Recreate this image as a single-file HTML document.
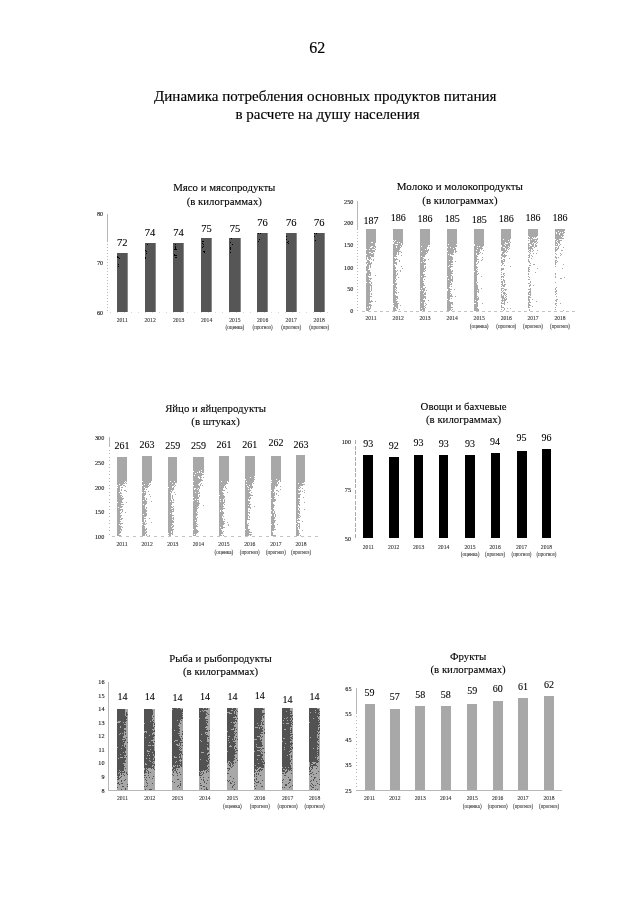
<!DOCTYPE html>
<html><head><meta charset="utf-8"><style>
html,body{margin:0;padding:0;background:#fff;}
body{width:640px;height:905px;overflow:hidden;}
svg{display:block;font-family:"Liberation Serif", serif;filter:grayscale(100%);}
</style></head><body>
<svg width="640" height="905" viewBox="0 0 640 905" shape-rendering="crispEdges">
<rect width="640" height="905" fill="#fff"/>
<text x="309.20" y="52.80" font-size="16" text-anchor="start" fill="#000" stroke="#000" stroke-width="0.15">62</text>
<text x="154.00" y="100.60" font-size="15" text-anchor="start" fill="#000" textLength="342.5" lengthAdjust="spacingAndGlyphs" stroke="#000" stroke-width="0.15">Динамика потребления основных продуктов питания</text>
<text x="235.50" y="119.40" font-size="15" text-anchor="start" fill="#000" stroke="#000" stroke-width="0.15">в расчете на душу населения</text>
<text x="224.30" y="191.30" font-size="10.8" text-anchor="middle" fill="#000" stroke="#000" stroke-width="0.1" >Мясо и мясопродукты</text>
<text x="224.30" y="205.20" font-size="10.8" text-anchor="middle" fill="#000" stroke="#000" stroke-width="0.1" >(в килограммах)</text>
<line x1="107.30" y1="213.90" x2="107.30" y2="241.00" stroke="#999" stroke-width="0.7"/>
<line x1="107.30" y1="241.00" x2="107.30" y2="312.00" stroke="#999" stroke-width="0.7" stroke-dasharray="1 2"/>
<text x="103.20" y="216.10" font-size="6.2" text-anchor="end" fill="#111" stroke="#111" stroke-width="0.1" >80</text>
<text x="103.20" y="265.40" font-size="6.2" text-anchor="end" fill="#111" stroke="#111" stroke-width="0.1" >70</text>
<text x="103.20" y="314.70" font-size="6.2" text-anchor="end" fill="#111" stroke="#111" stroke-width="0.1" >60</text>
<rect x="116.60" y="253.00" width="11.20" height="59.00" fill="#565656"/>
<rect x="127.00" y="253.00" width="0.80" height="59.00" fill="#8a8a8a"/>
<path d="M117 256h1v1h-1zM117 257h1v1h-1zM118 257h1v1h-1zM119 258h1v1h-1zM118 264h1v1h-1zM118 266h1v1h-1z" fill="#000"/>
<rect x="144.50" y="243.00" width="11.20" height="69.00" fill="#565656"/>
<rect x="154.90" y="243.00" width="0.80" height="69.00" fill="#8a8a8a"/>
<path d="M147 244h1v1h-1zM145 250h1v1h-1zM146 251h1v1h-1zM146 253h1v1h-1zM145 257h1v1h-1zM145 258h1v1h-1z" fill="#000"/>
<rect x="173.00" y="243.00" width="11.20" height="69.00" fill="#565656"/>
<rect x="183.40" y="243.00" width="0.80" height="69.00" fill="#8a8a8a"/>
<path d="M175 244h1v1h-1zM175 246h1v1h-1zM175 247h1v1h-1zM175 248h1v1h-1zM174 249h1v1h-1zM175 249h1v1h-1zM176 249h1v1h-1zM174 254h1v1h-1zM174 255h1v1h-1zM175 255h1v1h-1zM176 255h1v1h-1zM175 257h1v1h-1zM176 257h1v1h-1z" fill="#000"/>
<rect x="201.00" y="237.50" width="11.20" height="74.50" fill="#565656"/>
<rect x="211.40" y="237.50" width="0.80" height="74.50" fill="#8a8a8a"/>
<path d="M202 241h1v1h-1zM203 241h1v1h-1zM202 243h1v1h-1zM203 244h1v1h-1zM203 246h1v1h-1zM202 247h1v1h-1zM203 251h1v1h-1zM204 251h1v1h-1zM204 252h1v1h-1z" fill="#000"/>
<rect x="229.30" y="237.50" width="11.20" height="74.50" fill="#565656"/>
<rect x="239.70" y="237.50" width="0.80" height="74.50" fill="#8a8a8a"/>
<path d="M231 238h1v1h-1zM230 242h1v1h-1zM232 244h1v1h-1zM230 247h1v1h-1zM230 248h1v1h-1zM230 249h1v1h-1zM230 252h1v1h-1z" fill="#000"/>
<rect x="257.00" y="232.50" width="11.20" height="79.50" fill="#565656"/>
<rect x="267.40" y="232.50" width="0.80" height="79.50" fill="#8a8a8a"/>
<path d="M258 233h1v1h-1zM260 233h1v1h-1zM259 239h1v1h-1zM258 241h1v1h-1z" fill="#000"/>
<rect x="285.60" y="232.50" width="11.20" height="79.50" fill="#565656"/>
<rect x="296.00" y="232.50" width="0.80" height="79.50" fill="#8a8a8a"/>
<path d="M286 236h1v1h-1zM286 239h1v1h-1zM288 241h1v1h-1zM287 242h1v1h-1zM288 243h1v1h-1z" fill="#000"/>
<rect x="313.60" y="232.50" width="11.20" height="79.50" fill="#565656"/>
<rect x="324.00" y="232.50" width="0.80" height="79.50" fill="#8a8a8a"/>
<path d="M314 233h1v1h-1zM316 233h1v1h-1zM314 236h1v1h-1zM315 240h1v1h-1z" fill="#000"/>
<line x1="110.00" y1="312.00" x2="330.00" y2="312.00" stroke="#bbb" stroke-width="0.6" stroke-dasharray="1 6"/>
<text x="122.20" y="245.60" font-size="10.5" text-anchor="middle" fill="#000" stroke="#000" stroke-width="0.1" >72</text>
<text x="150.10" y="236.40" font-size="10.5" text-anchor="middle" fill="#000" stroke="#000" stroke-width="0.1" >74</text>
<text x="178.60" y="236.40" font-size="10.5" text-anchor="middle" fill="#000" stroke="#000" stroke-width="0.1" >74</text>
<text x="206.60" y="232.00" font-size="10.5" text-anchor="middle" fill="#000" stroke="#000" stroke-width="0.1" >75</text>
<text x="234.90" y="232.00" font-size="10.5" text-anchor="middle" fill="#000" stroke="#000" stroke-width="0.1" >75</text>
<text x="262.60" y="226.00" font-size="10.5" text-anchor="middle" fill="#000" stroke="#000" stroke-width="0.1" >76</text>
<text x="291.20" y="226.00" font-size="10.5" text-anchor="middle" fill="#000" stroke="#000" stroke-width="0.1" >76</text>
<text x="319.20" y="226.00" font-size="10.5" text-anchor="middle" fill="#000" stroke="#000" stroke-width="0.1" >76</text>
<text x="122.20" y="321.80" font-size="5.6" text-anchor="middle" fill="#333" stroke="#333" stroke-width="0.1" >2011</text>
<text x="150.10" y="321.80" font-size="5.6" text-anchor="middle" fill="#333" stroke="#333" stroke-width="0.1" >2012</text>
<text x="178.60" y="321.80" font-size="5.6" text-anchor="middle" fill="#333" stroke="#333" stroke-width="0.1" >2013</text>
<text x="206.60" y="321.80" font-size="5.6" text-anchor="middle" fill="#333" stroke="#333" stroke-width="0.1" >2014</text>
<text x="234.90" y="321.80" font-size="5.6" text-anchor="middle" fill="#333" stroke="#333" stroke-width="0.1" >2015</text>
<text x="234.90" y="329.20" font-size="5.2" text-anchor="middle" fill="#444" stroke="#444" stroke-width="0.1" textLength="18.8" lengthAdjust="spacingAndGlyphs">(оценка)</text>
<text x="262.60" y="321.80" font-size="5.6" text-anchor="middle" fill="#333" stroke="#333" stroke-width="0.1" >2016</text>
<text x="262.60" y="329.20" font-size="5.2" text-anchor="middle" fill="#444" stroke="#444" stroke-width="0.1" textLength="20.0" lengthAdjust="spacingAndGlyphs">(прогноз)</text>
<text x="291.20" y="321.80" font-size="5.6" text-anchor="middle" fill="#333" stroke="#333" stroke-width="0.1" >2017</text>
<text x="291.20" y="329.20" font-size="5.2" text-anchor="middle" fill="#444" stroke="#444" stroke-width="0.1" textLength="20.0" lengthAdjust="spacingAndGlyphs">(прогноз)</text>
<text x="319.20" y="321.80" font-size="5.6" text-anchor="middle" fill="#333" stroke="#333" stroke-width="0.1" >2018</text>
<text x="319.20" y="329.20" font-size="5.2" text-anchor="middle" fill="#444" stroke="#444" stroke-width="0.1" textLength="20.0" lengthAdjust="spacingAndGlyphs">(прогноз)</text>
<text x="459.90" y="190.00" font-size="11.0" text-anchor="middle" fill="#000" stroke="#000" stroke-width="0.1" >Молоко и молокопродукты</text>
<text x="459.90" y="203.80" font-size="10.8" text-anchor="middle" fill="#000" stroke="#000" stroke-width="0.1" >(в килограммах)</text>
<line x1="357.40" y1="201.30" x2="357.40" y2="228.60" stroke="#999" stroke-width="0.7"/>
<line x1="357.40" y1="228.60" x2="357.40" y2="311.00" stroke="#999" stroke-width="0.7" stroke-dasharray="1 2"/>
<text x="353.40" y="203.50" font-size="6.2" text-anchor="end" fill="#111" stroke="#111" stroke-width="0.1" >250</text>
<text x="353.40" y="224.80" font-size="6.2" text-anchor="end" fill="#111" stroke="#111" stroke-width="0.1" >200</text>
<text x="353.40" y="247.20" font-size="6.2" text-anchor="end" fill="#111" stroke="#111" stroke-width="0.1" >150</text>
<text x="353.40" y="269.60" font-size="6.2" text-anchor="end" fill="#111" stroke="#111" stroke-width="0.1" >100</text>
<text x="353.40" y="291.20" font-size="6.2" text-anchor="end" fill="#111" stroke="#111" stroke-width="0.1" >50</text>
<text x="353.40" y="312.90" font-size="6.2" text-anchor="end" fill="#111" stroke="#111" stroke-width="0.1" >0</text>
<path d="M366 229h10v1h-10zM366 230h10v1h-10zM366 231h10v1h-10zM366 232h10v1h-10zM366 233h10v1h-10zM366 234h10v1h-10zM366 235h10v1h-10zM366 236h10v1h-10zM366 237h10v1h-10zM366 238h10v1h-10zM366 239h10v1h-10zM366 240h10v1h-10zM366 241h10v1h-10zM366 242h5v1h-5zM373 242h3v1h-3zM366 243h9v1h-9zM366 244h9v1h-9zM366 245h9v1h-9zM366 246h5v1h-5zM373 246h3v1h-3zM366 247h4v1h-4zM372 247h2v1h-2zM375 247h1v1h-1zM366 248h9v1h-9zM367 249h2v1h-2zM370 249h2v1h-2zM375 249h1v1h-1zM366 250h9v1h-9zM366 251h9v1h-9zM366 252h3v1h-3zM371 252h2v1h-2zM366 253h5v1h-5zM373 253h1v1h-1zM367 254h7v1h-7zM366 255h8v1h-8zM366 256h4v1h-4zM371 256h3v1h-3zM366 257h1v1h-1zM368 257h3v1h-3zM366 258h1v1h-1zM368 258h3v1h-3zM366 259h1v1h-1zM369 259h1v1h-1zM371 259h1v1h-1zM373 259h1v1h-1zM367 260h2v1h-2zM373 260h1v1h-1zM367 261h3v1h-3zM366 262h4v1h-4zM371 262h1v1h-1zM366 263h1v1h-1zM368 263h4v1h-4zM367 264h4v1h-4zM367 265h2v1h-2zM370 265h1v1h-1zM366 266h3v1h-3zM370 266h1v1h-1zM366 267h3v1h-3zM370 267h1v1h-1zM366 268h3v1h-3zM366 269h2v1h-2zM366 270h4v1h-4zM367 271h3v1h-3zM367 272h4v1h-4zM366 273h5v1h-5zM366 274h3v1h-3zM370 274h1v1h-1zM366 275h5v1h-5zM375 275h1v1h-1zM366 276h2v1h-2zM366 277h3v1h-3zM366 278h6v1h-6zM366 279h3v1h-3zM370 279h1v1h-1zM366 280h4v1h-4zM366 281h5v1h-5zM367 282h2v1h-2zM371 282h1v1h-1zM366 283h4v1h-4zM371 283h1v1h-1zM366 284h5v1h-5zM366 285h6v1h-6zM366 286h4v1h-4zM371 286h1v1h-1zM366 287h4v1h-4zM371 287h1v1h-1zM366 288h4v1h-4zM371 288h1v1h-1zM366 289h4v1h-4zM371 289h1v1h-1zM366 290h4v1h-4zM371 290h1v1h-1zM366 291h5v1h-5zM366 292h4v1h-4zM366 293h4v1h-4zM371 293h1v1h-1zM366 294h4v1h-4zM371 294h1v1h-1zM366 295h4v1h-4zM366 296h6v1h-6zM366 297h4v1h-4zM366 298h4v1h-4zM366 299h4v1h-4zM366 300h4v1h-4zM371 300h1v1h-1zM366 301h7v1h-7zM375 301h1v1h-1zM366 302h5v1h-5zM366 303h3v1h-3zM366 304h5v1h-5zM366 305h6v1h-6zM366 306h3v1h-3zM370 306h1v1h-1zM366 307h1v1h-1zM368 307h1v1h-1zM370 307h1v1h-1zM366 308h5v1h-5zM366 309h4v1h-4zM366 310h3v1h-3z" fill="#a8a8a8"/>
<path d="M393 229h10v1h-10zM393 230h10v1h-10zM393 231h10v1h-10zM393 232h10v1h-10zM393 233h10v1h-10zM393 234h10v1h-10zM393 235h10v1h-10zM393 236h10v1h-10zM393 237h10v1h-10zM393 238h10v1h-10zM393 239h10v1h-10zM394 240h1v1h-1zM396 240h7v1h-7zM393 241h1v1h-1zM395 241h8v1h-8zM394 242h3v1h-3zM398 242h1v1h-1zM400 242h3v1h-3zM394 243h7v1h-7zM402 243h1v1h-1zM393 244h2v1h-2zM398 244h3v1h-3zM402 244h1v1h-1zM393 245h9v1h-9zM393 246h3v1h-3zM397 246h3v1h-3zM401 246h1v1h-1zM393 247h3v1h-3zM397 247h4v1h-4zM393 248h7v1h-7zM393 249h7v1h-7zM393 250h6v1h-6zM393 251h8v1h-8zM393 252h4v1h-4zM398 252h1v1h-1zM401 252h1v1h-1zM393 253h4v1h-4zM398 253h1v1h-1zM393 254h4v1h-4zM398 254h1v1h-1zM393 255h3v1h-3zM401 255h1v1h-1zM393 256h4v1h-4zM393 257h1v1h-1zM393 258h2v1h-2zM396 258h1v1h-1zM393 259h5v1h-5zM393 260h3v1h-3zM399 260h1v1h-1zM393 261h2v1h-2zM399 261h1v1h-1zM393 262h4v1h-4zM393 263h4v1h-4zM393 264h1v1h-1zM396 264h1v1h-1zM393 265h2v1h-2zM393 266h2v1h-2zM401 266h1v1h-1zM393 267h3v1h-3zM393 268h3v1h-3zM402 268h1v1h-1zM393 269h2v1h-2zM393 270h3v1h-3zM397 270h1v1h-1zM400 270h1v1h-1zM393 271h4v1h-4zM400 271h1v1h-1zM393 272h3v1h-3zM393 273h3v1h-3zM397 273h1v1h-1zM393 274h3v1h-3zM397 274h1v1h-1zM393 275h4v1h-4zM393 276h3v1h-3zM393 277h3v1h-3zM398 277h1v1h-1zM393 278h3v1h-3zM393 279h2v1h-2zM396 279h1v1h-1zM393 280h3v1h-3zM393 281h3v1h-3zM393 282h2v1h-2zM393 283h4v1h-4zM394 284h3v1h-3zM393 285h3v1h-3zM393 286h3v1h-3zM393 287h4v1h-4zM393 288h2v1h-2zM396 288h1v1h-1zM393 289h3v1h-3zM393 290h2v1h-2zM396 290h1v1h-1zM393 291h3v1h-3zM393 292h4v1h-4zM398 292h1v1h-1zM393 293h2v1h-2zM396 293h1v1h-1zM393 294h2v1h-2zM393 295h3v1h-3zM393 296h5v1h-5zM393 297h5v1h-5zM393 298h3v1h-3zM397 298h1v1h-1zM393 299h4v1h-4zM393 300h3v1h-3zM393 301h5v1h-5zM393 302h4v1h-4zM394 303h5v1h-5zM393 304h5v1h-5zM394 305h4v1h-4zM400 305h1v1h-1zM394 306h4v1h-4zM393 307h2v1h-2zM396 307h2v1h-2zM393 308h3v1h-3zM397 308h1v1h-1zM393 309h3v1h-3zM399 309h1v1h-1zM393 310h4v1h-4z" fill="#a8a8a8"/>
<path d="M420 229h10v1h-10zM420 230h10v1h-10zM420 231h10v1h-10zM420 232h10v1h-10zM420 233h10v1h-10zM420 234h10v1h-10zM420 235h10v1h-10zM420 236h10v1h-10zM420 237h10v1h-10zM420 238h10v1h-10zM420 239h10v1h-10zM420 240h10v1h-10zM420 241h10v1h-10zM420 242h10v1h-10zM420 243h10v1h-10zM420 244h10v1h-10zM420 245h8v1h-8zM420 246h1v1h-1zM422 246h6v1h-6zM429 246h1v1h-1zM420 247h7v1h-7zM420 248h7v1h-7zM420 249h5v1h-5zM426 249h1v1h-1zM428 249h1v1h-1zM420 250h9v1h-9zM420 251h1v1h-1zM422 251h6v1h-6zM420 252h6v1h-6zM427 252h1v1h-1zM420 253h7v1h-7zM420 254h6v1h-6zM420 255h5v1h-5zM420 256h1v1h-1zM422 256h3v1h-3zM420 257h3v1h-3zM420 258h4v1h-4zM420 259h3v1h-3zM424 259h2v1h-2zM428 259h1v1h-1zM420 260h6v1h-6zM420 261h3v1h-3zM424 261h1v1h-1zM420 262h1v1h-1zM422 262h2v1h-2zM420 263h6v1h-6zM420 264h6v1h-6zM420 265h4v1h-4zM420 266h4v1h-4zM425 266h1v1h-1zM420 267h4v1h-4zM425 267h1v1h-1zM420 268h6v1h-6zM420 269h5v1h-5zM420 270h4v1h-4zM425 270h1v1h-1zM420 271h5v1h-5zM420 272h3v1h-3zM420 273h3v1h-3zM420 274h5v1h-5zM420 275h4v1h-4zM420 276h1v1h-1zM422 276h4v1h-4zM420 277h4v1h-4zM420 278h3v1h-3zM420 279h3v1h-3zM424 279h1v1h-1zM420 280h3v1h-3zM420 281h4v1h-4zM420 282h3v1h-3zM420 283h4v1h-4zM420 284h4v1h-4zM420 285h5v1h-5zM420 286h3v1h-3zM420 287h3v1h-3zM425 287h1v1h-1zM420 288h1v1h-1zM422 288h3v1h-3zM420 289h5v1h-5zM421 290h1v1h-1zM423 290h2v1h-2zM426 290h1v1h-1zM420 291h4v1h-4zM420 292h4v1h-4zM425 292h1v1h-1zM420 293h3v1h-3zM424 293h2v1h-2zM420 294h6v1h-6zM420 295h4v1h-4zM420 296h6v1h-6zM420 297h6v1h-6zM420 298h4v1h-4zM425 298h1v1h-1zM420 299h3v1h-3zM420 300h5v1h-5zM428 300h1v1h-1zM420 301h5v1h-5zM420 302h1v1h-1zM422 302h2v1h-2zM420 303h4v1h-4zM425 303h1v1h-1zM420 304h4v1h-4zM426 304h1v1h-1zM420 305h4v1h-4zM425 305h1v1h-1zM420 306h5v1h-5zM420 307h4v1h-4zM425 307h1v1h-1zM420 308h1v1h-1zM422 308h3v1h-3zM420 309h5v1h-5zM420 310h2v1h-2zM423 310h2v1h-2z" fill="#a8a8a8"/>
<path d="M447 229h10v1h-10zM447 230h10v1h-10zM447 231h10v1h-10zM447 232h10v1h-10zM447 233h10v1h-10zM447 234h10v1h-10zM447 235h10v1h-10zM447 236h10v1h-10zM447 237h10v1h-10zM447 238h10v1h-10zM447 239h10v1h-10zM447 240h10v1h-10zM447 241h10v1h-10zM447 242h10v1h-10zM447 243h10v1h-10zM447 244h1v1h-1zM449 244h7v1h-7zM447 245h10v1h-10zM447 246h10v1h-10zM448 247h2v1h-2zM451 247h4v1h-4zM447 248h6v1h-6zM454 248h2v1h-2zM447 249h9v1h-9zM447 250h7v1h-7zM455 250h1v1h-1zM448 251h6v1h-6zM455 251h2v1h-2zM447 252h7v1h-7zM455 252h1v1h-1zM447 253h6v1h-6zM447 254h1v1h-1zM449 254h1v1h-1zM451 254h3v1h-3zM447 255h3v1h-3zM447 256h5v1h-5zM447 257h6v1h-6zM447 258h6v1h-6zM447 259h6v1h-6zM447 260h2v1h-2zM450 260h2v1h-2zM447 261h6v1h-6zM455 261h1v1h-1zM447 262h6v1h-6zM447 263h4v1h-4zM447 264h6v1h-6zM447 265h2v1h-2zM450 265h1v1h-1zM447 266h1v1h-1zM449 266h4v1h-4zM447 267h4v1h-4zM447 268h3v1h-3zM447 269h4v1h-4zM447 270h4v1h-4zM452 270h1v1h-1zM447 271h6v1h-6zM447 272h5v1h-5zM447 273h6v1h-6zM447 274h4v1h-4zM447 275h5v1h-5zM448 276h3v1h-3zM452 276h1v1h-1zM447 277h4v1h-4zM452 277h1v1h-1zM447 278h4v1h-4zM452 278h1v1h-1zM447 279h1v1h-1zM449 279h4v1h-4zM447 280h6v1h-6zM447 281h4v1h-4zM452 281h1v1h-1zM447 282h4v1h-4zM447 283h3v1h-3zM451 283h1v1h-1zM447 284h5v1h-5zM447 285h3v1h-3zM447 286h3v1h-3zM451 286h1v1h-1zM447 287h2v1h-2zM447 288h3v1h-3zM448 289h4v1h-4zM454 289h1v1h-1zM448 290h2v1h-2zM447 291h4v1h-4zM447 292h3v1h-3zM447 293h4v1h-4zM447 294h3v1h-3zM451 294h1v1h-1zM447 295h5v1h-5zM447 296h6v1h-6zM455 296h1v1h-1zM447 297h3v1h-3zM447 298h3v1h-3zM451 298h1v1h-1zM448 299h2v1h-2zM447 300h2v1h-2zM447 301h3v1h-3zM447 302h6v1h-6zM447 303h6v1h-6zM447 304h4v1h-4zM452 304h1v1h-1zM447 305h4v1h-4zM447 306h4v1h-4zM447 307h6v1h-6zM447 308h4v1h-4zM447 309h4v1h-4zM452 309h1v1h-1zM447 310h3v1h-3zM451 310h1v1h-1z" fill="#a8a8a8"/>
<path d="M474 229h10v1h-10zM474 230h10v1h-10zM474 231h10v1h-10zM474 232h10v1h-10zM474 233h10v1h-10zM474 234h10v1h-10zM474 235h10v1h-10zM474 236h10v1h-10zM474 237h10v1h-10zM474 238h10v1h-10zM474 239h10v1h-10zM474 240h10v1h-10zM474 241h10v1h-10zM474 242h10v1h-10zM474 243h10v1h-10zM475 244h9v1h-9zM475 245h9v1h-9zM474 246h3v1h-3zM478 246h1v1h-1zM480 246h3v1h-3zM474 247h8v1h-8zM474 248h3v1h-3zM478 248h5v1h-5zM474 249h6v1h-6zM481 249h1v1h-1zM474 250h2v1h-2zM477 250h3v1h-3zM483 250h1v1h-1zM474 251h6v1h-6zM474 252h5v1h-5zM480 252h1v1h-1zM474 253h2v1h-2zM477 253h3v1h-3zM482 253h1v1h-1zM474 254h2v1h-2zM477 254h2v1h-2zM474 255h3v1h-3zM474 256h4v1h-4zM474 257h3v1h-3zM482 257h1v1h-1zM474 258h3v1h-3zM474 259h5v1h-5zM482 259h1v1h-1zM474 260h3v1h-3zM481 260h1v1h-1zM474 261h3v1h-3zM478 261h1v1h-1zM474 262h2v1h-2zM478 262h1v1h-1zM474 263h2v1h-2zM477 263h1v1h-1zM474 264h3v1h-3zM474 265h2v1h-2zM474 266h3v1h-3zM474 267h4v1h-4zM474 268h3v1h-3zM474 269h2v1h-2zM477 269h1v1h-1zM474 270h3v1h-3zM475 271h3v1h-3zM474 272h3v1h-3zM474 273h3v1h-3zM478 273h1v1h-1zM474 274h4v1h-4zM474 275h3v1h-3zM474 276h3v1h-3zM481 276h1v1h-1zM474 277h3v1h-3zM474 278h3v1h-3zM474 279h3v1h-3zM474 280h3v1h-3zM474 281h3v1h-3zM474 282h2v1h-2zM477 282h1v1h-1zM474 283h3v1h-3zM474 284h3v1h-3zM474 285h4v1h-4zM474 286h4v1h-4zM474 287h4v1h-4zM474 288h4v1h-4zM481 288h1v1h-1zM474 289h5v1h-5zM474 290h3v1h-3zM478 290h1v1h-1zM474 291h5v1h-5zM474 292h3v1h-3zM478 292h1v1h-1zM474 293h3v1h-3zM474 294h3v1h-3zM474 295h3v1h-3zM474 296h4v1h-4zM474 297h3v1h-3zM478 297h1v1h-1zM474 298h5v1h-5zM474 299h5v1h-5zM474 300h1v1h-1zM476 300h2v1h-2zM474 301h3v1h-3zM474 302h4v1h-4zM476 303h2v1h-2zM482 303h1v1h-1zM474 304h4v1h-4zM474 305h4v1h-4zM474 306h4v1h-4zM474 307h3v1h-3zM474 308h4v1h-4zM474 309h5v1h-5zM474 310h5v1h-5z" fill="#a8a8a8"/>
<path d="M501 229h10v1h-10zM501 230h10v1h-10zM501 231h10v1h-10zM501 232h10v1h-10zM501 233h10v1h-10zM501 234h10v1h-10zM501 235h10v1h-10zM501 236h10v1h-10zM501 237h10v1h-10zM501 238h10v1h-10zM501 239h2v1h-2zM504 239h6v1h-6zM501 240h7v1h-7zM509 240h1v1h-1zM501 241h9v1h-9zM501 242h4v1h-4zM506 242h3v1h-3zM510 242h1v1h-1zM501 243h4v1h-4zM508 243h2v1h-2zM501 244h3v1h-3zM505 244h5v1h-5zM502 245h3v1h-3zM506 245h4v1h-4zM502 246h6v1h-6zM509 246h1v1h-1zM501 247h2v1h-2zM505 247h4v1h-4zM501 248h4v1h-4zM506 248h2v1h-2zM509 248h1v1h-1zM501 249h4v1h-4zM506 249h1v1h-1zM508 249h1v1h-1zM501 250h6v1h-6zM503 251h3v1h-3zM507 251h1v1h-1zM502 252h3v1h-3zM506 252h1v1h-1zM502 253h2v1h-2zM501 254h2v1h-2zM504 254h1v1h-1zM501 255h6v1h-6zM502 256h4v1h-4zM501 257h1v1h-1zM504 257h1v1h-1zM501 258h1v1h-1zM509 258h1v1h-1zM503 259h2v1h-2zM501 260h2v1h-2zM504 260h1v1h-1zM501 261h4v1h-4zM501 262h2v1h-2zM502 263h2v1h-2zM502 264h1v1h-1zM501 265h1v1h-1zM504 265h1v1h-1zM510 266h1v1h-1zM501 268h3v1h-3zM501 269h3v1h-3zM501 270h1v1h-1zM501 272h1v1h-1zM503 273h2v1h-2zM501 274h1v1h-1zM503 274h1v1h-1zM504 275h1v1h-1zM501 276h3v1h-3zM501 277h1v1h-1zM503 277h1v1h-1zM501 279h1v1h-1zM503 279h1v1h-1zM503 280h2v1h-2zM501 281h2v1h-2zM504 281h1v1h-1zM501 282h2v1h-2zM504 282h1v1h-1zM502 283h1v1h-1zM501 284h2v1h-2zM504 284h2v1h-2zM502 285h3v1h-3zM501 286h1v1h-1zM503 286h2v1h-2zM501 288h3v1h-3zM501 289h1v1h-1zM504 289h3v1h-3zM501 290h1v1h-1zM503 290h1v1h-1zM505 290h1v1h-1zM502 291h1v1h-1zM501 292h1v1h-1zM503 292h2v1h-2zM503 293h3v1h-3zM501 294h1v1h-1zM504 294h1v1h-1zM506 294h1v1h-1zM501 295h1v1h-1zM503 295h1v1h-1zM505 295h1v1h-1zM501 296h3v1h-3zM506 296h1v1h-1zM501 297h3v1h-3zM505 297h1v1h-1zM502 298h3v1h-3zM506 298h1v1h-1zM502 299h1v1h-1zM504 299h3v1h-3zM501 300h5v1h-5zM502 301h1v1h-1zM504 301h1v1h-1zM501 302h1v1h-1zM504 302h1v1h-1zM507 302h1v1h-1zM501 303h4v1h-4zM504 304h1v1h-1zM501 305h1v1h-1zM501 306h1v1h-1zM501 307h3v1h-3zM504 308h1v1h-1zM507 308h1v1h-1zM510 308h1v1h-1zM501 309h1v1h-1zM504 309h1v1h-1zM503 310h1v1h-1z" fill="#a8a8a8"/>
<path d="M528 229h10v1h-10zM528 230h10v1h-10zM528 231h10v1h-10zM528 232h10v1h-10zM528 233h10v1h-10zM528 234h10v1h-10zM528 235h10v1h-10zM529 236h8v1h-8zM528 237h1v1h-1zM530 237h2v1h-2zM533 237h1v1h-1zM535 237h1v1h-1zM528 238h5v1h-5zM537 238h1v1h-1zM530 239h1v1h-1zM532 239h6v1h-6zM528 240h1v1h-1zM530 240h5v1h-5zM536 240h1v1h-1zM530 241h7v1h-7zM530 242h3v1h-3zM534 242h2v1h-2zM537 242h1v1h-1zM528 243h4v1h-4zM533 243h1v1h-1zM536 243h1v1h-1zM528 244h1v1h-1zM531 244h3v1h-3zM535 244h1v1h-1zM528 245h2v1h-2zM532 245h2v1h-2zM535 245h2v1h-2zM528 246h1v1h-1zM530 246h4v1h-4zM535 246h2v1h-2zM528 247h4v1h-4zM534 247h1v1h-1zM528 248h5v1h-5zM528 249h1v1h-1zM530 249h1v1h-1zM532 249h1v1h-1zM529 250h2v1h-2zM533 250h1v1h-1zM537 250h1v1h-1zM528 251h1v1h-1zM530 251h1v1h-1zM532 251h1v1h-1zM529 252h1v1h-1zM530 253h1v1h-1zM533 253h1v1h-1zM536 253h1v1h-1zM529 254h1v1h-1zM528 255h2v1h-2zM531 255h1v1h-1zM529 256h1v1h-1zM532 256h1v1h-1zM528 257h2v1h-2zM531 258h1v1h-1zM528 259h1v1h-1zM528 260h1v1h-1zM528 261h2v1h-2zM529 262h1v1h-1zM530 263h1v1h-1zM533 264h2v1h-2zM529 265h2v1h-2zM528 267h2v1h-2zM528 268h1v1h-1zM537 268h1v1h-1zM528 269h2v1h-2zM528 270h1v1h-1zM528 271h2v1h-2zM535 272h1v1h-1zM528 273h1v1h-1zM528 274h1v1h-1zM528 276h1v1h-1zM529 277h1v1h-1zM528 279h2v1h-2zM530 281h1v1h-1zM530 282h1v1h-1zM528 283h2v1h-2zM530 284h1v1h-1zM529 285h2v1h-2zM533 285h1v1h-1zM529 286h1v1h-1zM530 288h1v1h-1zM528 289h3v1h-3zM530 290h1v1h-1zM529 291h2v1h-2zM528 292h3v1h-3zM528 293h1v1h-1zM530 293h1v1h-1zM528 294h3v1h-3zM530 295h1v1h-1zM528 296h2v1h-2zM528 297h3v1h-3zM528 298h1v1h-1zM528 299h2v1h-2zM532 299h1v1h-1zM528 300h2v1h-2zM529 301h1v1h-1zM536 301h1v1h-1zM528 302h3v1h-3zM528 303h1v1h-1zM528 304h2v1h-2zM528 305h3v1h-3zM528 306h1v1h-1zM532 306h1v1h-1zM528 307h2v1h-2zM529 309h1v1h-1zM529 310h1v1h-1z" fill="#a8a8a8"/>
<path d="M555 229h10v1h-10zM555 230h10v1h-10zM555 231h3v1h-3zM559 231h5v1h-5zM555 232h1v1h-1zM557 232h3v1h-3zM561 232h1v1h-1zM563 232h2v1h-2zM555 233h1v1h-1zM557 233h2v1h-2zM560 233h4v1h-4zM555 234h4v1h-4zM560 234h3v1h-3zM555 235h9v1h-9zM555 236h6v1h-6zM562 236h1v1h-1zM555 237h7v1h-7zM555 238h9v1h-9zM556 239h3v1h-3zM555 240h2v1h-2zM558 240h4v1h-4zM555 241h1v1h-1zM557 241h3v1h-3zM555 242h2v1h-2zM558 242h2v1h-2zM555 243h3v1h-3zM559 243h1v1h-1zM555 244h1v1h-1zM557 244h1v1h-1zM560 244h1v1h-1zM555 245h3v1h-3zM559 245h1v1h-1zM558 246h1v1h-1zM555 247h2v1h-2zM558 247h1v1h-1zM563 247h1v1h-1zM555 248h1v1h-1zM557 248h2v1h-2zM555 249h3v1h-3zM555 250h2v1h-2zM561 250h2v1h-2zM555 251h1v1h-1zM555 253h1v1h-1zM560 253h1v1h-1zM556 254h1v1h-1zM561 254h1v1h-1zM560 255h1v1h-1zM555 256h1v1h-1zM555 257h2v1h-2zM558 257h1v1h-1zM556 258h1v1h-1zM555 260h2v1h-2zM555 261h1v1h-1zM557 261h1v1h-1zM555 262h2v1h-2zM555 263h1v1h-1zM555 264h1v1h-1zM563 264h1v1h-1zM555 266h1v1h-1zM562 268h1v1h-1zM555 273h1v1h-1zM555 274h1v1h-1zM555 276h1v1h-1zM555 277h1v1h-1zM564 277h1v1h-1zM560 278h2v1h-2zM555 282h1v1h-1zM556 287h1v1h-1zM555 288h1v1h-1zM555 289h1v1h-1zM556 290h1v1h-1zM555 291h2v1h-2zM555 292h1v1h-1zM556 293h1v1h-1zM555 294h1v1h-1zM556 296h1v1h-1zM556 299h2v1h-2zM555 300h2v1h-2zM556 301h1v1h-1zM555 303h2v1h-2zM560 303h1v1h-1zM555 304h1v1h-1zM556 305h1v1h-1zM555 307h1v1h-1zM555 309h1v1h-1zM563 310h1v1h-1z" fill="#a8a8a8"/>
<line x1="362.00" y1="311.20" x2="575.00" y2="311.20" stroke="#aaa" stroke-width="0.7" stroke-dasharray="3 3"/>
<text x="371.00" y="223.75" font-size="10.0" text-anchor="middle" fill="#000" stroke="#000" stroke-width="0.1" >187</text>
<text x="398.20" y="221.00" font-size="10.0" text-anchor="middle" fill="#000" stroke="#000" stroke-width="0.1" >186</text>
<text x="425.00" y="221.90" font-size="10.0" text-anchor="middle" fill="#000" stroke="#000" stroke-width="0.1" >186</text>
<text x="452.20" y="222.00" font-size="10.0" text-anchor="middle" fill="#000" stroke="#000" stroke-width="0.1" >185</text>
<text x="479.20" y="222.80" font-size="10.0" text-anchor="middle" fill="#000" stroke="#000" stroke-width="0.1" >185</text>
<text x="506.25" y="222.00" font-size="10.0" text-anchor="middle" fill="#000" stroke="#000" stroke-width="0.1" >186</text>
<text x="533.00" y="221.00" font-size="10.0" text-anchor="middle" fill="#000" stroke="#000" stroke-width="0.1" >186</text>
<text x="560.00" y="221.00" font-size="10.0" text-anchor="middle" fill="#000" stroke="#000" stroke-width="0.1" >186</text>
<text x="371.00" y="320.30" font-size="5.6" text-anchor="middle" fill="#333" stroke="#333" stroke-width="0.1" >2011</text>
<text x="398.20" y="320.30" font-size="5.6" text-anchor="middle" fill="#333" stroke="#333" stroke-width="0.1" >2012</text>
<text x="425.00" y="320.30" font-size="5.6" text-anchor="middle" fill="#333" stroke="#333" stroke-width="0.1" >2013</text>
<text x="452.20" y="320.30" font-size="5.6" text-anchor="middle" fill="#333" stroke="#333" stroke-width="0.1" >2014</text>
<text x="479.20" y="320.30" font-size="5.6" text-anchor="middle" fill="#333" stroke="#333" stroke-width="0.1" >2015</text>
<text x="479.20" y="327.80" font-size="5.2" text-anchor="middle" fill="#444" stroke="#444" stroke-width="0.1" textLength="18.8" lengthAdjust="spacingAndGlyphs">(оценка)</text>
<text x="506.25" y="320.30" font-size="5.6" text-anchor="middle" fill="#333" stroke="#333" stroke-width="0.1" >2016</text>
<text x="506.25" y="327.80" font-size="5.2" text-anchor="middle" fill="#444" stroke="#444" stroke-width="0.1" textLength="20.0" lengthAdjust="spacingAndGlyphs">(прогноз)</text>
<text x="533.00" y="320.30" font-size="5.6" text-anchor="middle" fill="#333" stroke="#333" stroke-width="0.1" >2017</text>
<text x="533.00" y="327.80" font-size="5.2" text-anchor="middle" fill="#444" stroke="#444" stroke-width="0.1" textLength="20.0" lengthAdjust="spacingAndGlyphs">(прогноз)</text>
<text x="560.00" y="320.30" font-size="5.6" text-anchor="middle" fill="#333" stroke="#333" stroke-width="0.1" >2018</text>
<text x="560.00" y="327.80" font-size="5.2" text-anchor="middle" fill="#444" stroke="#444" stroke-width="0.1" textLength="20.0" lengthAdjust="spacingAndGlyphs">(прогноз)</text>
<text x="215.60" y="411.90" font-size="10.8" text-anchor="middle" fill="#000" stroke="#000" stroke-width="0.1" >Яйцо и яйцепродукты</text>
<text x="215.60" y="425.40" font-size="10.8" text-anchor="middle" fill="#000" stroke="#000" stroke-width="0.1" >(в штуках)</text>
<line x1="109.00" y1="437.30" x2="109.00" y2="446.00" stroke="#999" stroke-width="0.7"/>
<line x1="109.00" y1="446.00" x2="109.00" y2="536.60" stroke="#999" stroke-width="0.7" stroke-dasharray="1 2.5"/>
<text x="104.30" y="439.50" font-size="6.2" text-anchor="end" fill="#111" stroke="#111" stroke-width="0.1" >300</text>
<text x="104.30" y="464.60" font-size="6.2" text-anchor="end" fill="#111" stroke="#111" stroke-width="0.1" >250</text>
<text x="104.30" y="489.60" font-size="6.2" text-anchor="end" fill="#111" stroke="#111" stroke-width="0.1" >200</text>
<text x="104.30" y="514.40" font-size="6.2" text-anchor="end" fill="#111" stroke="#111" stroke-width="0.1" >150</text>
<text x="104.30" y="538.80" font-size="6.2" text-anchor="end" fill="#111" stroke="#111" stroke-width="0.1" >100</text>
<path d="M117 457h10v1h-10zM117 458h10v1h-10zM117 459h10v1h-10zM117 460h10v1h-10zM117 461h10v1h-10zM117 462h10v1h-10zM117 463h10v1h-10zM117 464h10v1h-10zM117 465h10v1h-10zM117 466h10v1h-10zM117 467h10v1h-10zM117 468h10v1h-10zM117 469h10v1h-10zM117 470h10v1h-10zM117 471h10v1h-10zM117 472h10v1h-10zM117 473h10v1h-10zM117 474h10v1h-10zM117 475h10v1h-10zM117 476h10v1h-10zM117 477h10v1h-10zM117 478h10v1h-10zM117 479h10v1h-10zM117 480h10v1h-10zM117 481h8v1h-8zM126 481h1v1h-1zM117 482h7v1h-7zM125 482h1v1h-1zM117 483h8v1h-8zM126 483h1v1h-1zM117 484h2v1h-2zM120 484h3v1h-3zM118 485h4v1h-4zM123 485h2v1h-2zM117 486h3v1h-3zM125 486h1v1h-1zM118 487h2v1h-2zM121 487h2v1h-2zM117 488h3v1h-3zM117 489h3v1h-3zM121 489h1v1h-1zM117 490h3v1h-3zM121 490h1v1h-1zM124 490h2v1h-2zM117 491h3v1h-3zM126 491h1v1h-1zM117 492h2v1h-2zM120 492h1v1h-1zM117 493h5v1h-5zM117 494h3v1h-3zM117 495h5v1h-5zM117 496h4v1h-4zM122 496h1v1h-1zM117 497h5v1h-5zM117 498h7v1h-7zM117 499h6v1h-6zM117 500h5v1h-5zM117 501h5v1h-5zM118 502h5v1h-5zM126 502h1v1h-1zM117 503h4v1h-4zM117 504h7v1h-7zM117 505h4v1h-4zM117 506h6v1h-6zM117 507h1v1h-1zM119 507h3v1h-3zM117 508h3v1h-3zM117 509h6v1h-6zM117 510h4v1h-4zM122 510h1v1h-1zM117 511h3v1h-3zM122 511h1v1h-1zM117 512h3v1h-3zM121 512h1v1h-1zM125 512h1v1h-1zM117 513h4v1h-4zM117 514h3v1h-3zM117 515h5v1h-5zM117 516h4v1h-4zM117 517h4v1h-4zM117 518h3v1h-3zM121 518h2v1h-2zM117 519h5v1h-5zM117 520h3v1h-3zM117 521h4v1h-4zM117 522h3v1h-3zM117 523h6v1h-6zM117 524h2v1h-2zM120 524h1v1h-1zM117 525h3v1h-3zM117 526h5v1h-5zM117 527h4v1h-4zM122 527h1v1h-1zM117 528h4v1h-4zM117 529h5v1h-5zM117 530h3v1h-3zM121 530h1v1h-1zM117 531h4v1h-4zM117 532h4v1h-4zM117 533h3v1h-3zM117 534h2v1h-2zM117 535h4v1h-4z" fill="#a8a8a8"/>
<path d="M142 456h10v1h-10zM142 457h10v1h-10zM142 458h10v1h-10zM142 459h10v1h-10zM142 460h10v1h-10zM142 461h10v1h-10zM142 462h10v1h-10zM142 463h10v1h-10zM142 464h10v1h-10zM142 465h10v1h-10zM142 466h10v1h-10zM142 467h10v1h-10zM142 468h10v1h-10zM142 469h10v1h-10zM142 470h10v1h-10zM142 471h10v1h-10zM142 472h10v1h-10zM142 473h10v1h-10zM142 474h10v1h-10zM142 475h10v1h-10zM142 476h10v1h-10zM142 477h10v1h-10zM142 478h10v1h-10zM142 479h10v1h-10zM142 480h10v1h-10zM143 481h8v1h-8zM142 482h9v1h-9zM142 483h7v1h-7zM142 484h2v1h-2zM145 484h4v1h-4zM150 484h1v1h-1zM143 485h5v1h-5zM149 485h1v1h-1zM142 486h7v1h-7zM142 487h2v1h-2zM145 487h3v1h-3zM142 488h3v1h-3zM142 489h3v1h-3zM146 489h1v1h-1zM142 490h2v1h-2zM142 491h4v1h-4zM148 491h1v1h-1zM143 492h1v1h-1zM145 492h1v1h-1zM142 493h4v1h-4zM142 494h4v1h-4zM149 494h1v1h-1zM142 495h3v1h-3zM142 496h2v1h-2zM150 496h1v1h-1zM142 497h3v1h-3zM142 498h3v1h-3zM146 498h1v1h-1zM142 499h3v1h-3zM146 499h1v1h-1zM142 500h1v1h-1zM144 500h2v1h-2zM142 501h5v1h-5zM151 501h1v1h-1zM142 502h5v1h-5zM142 503h5v1h-5zM142 504h1v1h-1zM144 504h2v1h-2zM142 505h3v1h-3zM142 506h3v1h-3zM142 507h3v1h-3zM146 507h1v1h-1zM142 508h3v1h-3zM146 508h1v1h-1zM142 509h4v1h-4zM142 510h5v1h-5zM142 511h5v1h-5zM142 512h4v1h-4zM142 513h5v1h-5zM142 514h1v1h-1zM144 514h3v1h-3zM142 515h5v1h-5zM142 516h4v1h-4zM142 517h2v1h-2zM142 518h4v1h-4zM149 518h1v1h-1zM142 519h2v1h-2zM142 520h2v1h-2zM145 520h1v1h-1zM142 521h2v1h-2zM145 521h1v1h-1zM143 522h2v1h-2zM151 522h1v1h-1zM142 523h3v1h-3zM146 523h1v1h-1zM143 524h3v1h-3zM142 525h2v1h-2zM142 526h3v1h-3zM142 527h3v1h-3zM142 528h3v1h-3zM146 528h1v1h-1zM142 529h5v1h-5zM142 530h4v1h-4zM142 531h3v1h-3zM146 531h1v1h-1zM142 532h5v1h-5zM142 533h4v1h-4zM142 534h3v1h-3zM146 534h1v1h-1zM142 535h3v1h-3zM146 535h1v1h-1zM149 535h1v1h-1z" fill="#a8a8a8"/>
<path d="M168 457h9v1h-9zM168 458h9v1h-9zM168 459h9v1h-9zM168 460h9v1h-9zM168 461h9v1h-9zM168 462h9v1h-9zM168 463h9v1h-9zM168 464h9v1h-9zM168 465h9v1h-9zM168 466h9v1h-9zM168 467h9v1h-9zM168 468h9v1h-9zM168 469h9v1h-9zM168 470h9v1h-9zM168 471h9v1h-9zM168 472h9v1h-9zM168 473h9v1h-9zM168 474h9v1h-9zM168 475h9v1h-9zM168 476h9v1h-9zM168 477h9v1h-9zM168 478h9v1h-9zM168 479h9v1h-9zM168 480h9v1h-9zM168 481h2v1h-2zM171 481h3v1h-3zM175 481h2v1h-2zM168 482h9v1h-9zM168 483h4v1h-4zM173 483h2v1h-2zM168 484h7v1h-7zM168 485h6v1h-6zM175 485h1v1h-1zM168 486h4v1h-4zM174 486h1v1h-1zM169 487h3v1h-3zM173 487h1v1h-1zM168 488h6v1h-6zM168 489h6v1h-6zM168 490h3v1h-3zM172 490h1v1h-1zM168 491h4v1h-4zM168 492h2v1h-2zM171 492h1v1h-1zM174 492h1v1h-1zM168 493h3v1h-3zM168 494h3v1h-3zM175 494h1v1h-1zM168 495h3v1h-3zM172 495h1v1h-1zM168 496h3v1h-3zM172 496h1v1h-1zM168 497h3v1h-3zM172 497h1v1h-1zM168 498h3v1h-3zM172 498h1v1h-1zM168 499h3v1h-3zM173 499h1v1h-1zM168 500h4v1h-4zM173 500h1v1h-1zM168 501h2v1h-2zM171 501h1v1h-1zM168 502h6v1h-6zM168 503h4v1h-4zM168 504h4v1h-4zM168 505h3v1h-3zM168 506h4v1h-4zM173 506h1v1h-1zM168 507h5v1h-5zM168 508h3v1h-3zM173 508h1v1h-1zM168 509h6v1h-6zM168 510h4v1h-4zM173 510h1v1h-1zM168 511h6v1h-6zM168 512h4v1h-4zM168 513h2v1h-2zM171 513h1v1h-1zM168 514h4v1h-4zM168 515h6v1h-6zM168 516h4v1h-4zM168 517h4v1h-4zM173 517h1v1h-1zM168 518h6v1h-6zM168 519h4v1h-4zM173 519h1v1h-1zM168 520h5v1h-5zM168 521h6v1h-6zM168 522h6v1h-6zM168 523h4v1h-4zM168 524h5v1h-5zM168 525h4v1h-4zM173 525h1v1h-1zM168 526h3v1h-3zM172 526h2v1h-2zM168 527h5v1h-5zM168 528h4v1h-4zM168 529h6v1h-6zM168 530h5v1h-5zM168 531h3v1h-3zM172 531h1v1h-1zM168 532h3v1h-3zM172 532h1v1h-1zM169 533h4v1h-4zM168 534h3v1h-3zM172 534h1v1h-1zM169 535h2v1h-2z" fill="#a8a8a8"/>
<path d="M193 457h11v1h-11zM193 458h11v1h-11zM193 459h11v1h-11zM193 460h11v1h-11zM193 461h11v1h-11zM193 462h11v1h-11zM193 463h11v1h-11zM193 464h11v1h-11zM193 465h11v1h-11zM193 466h11v1h-11zM193 467h11v1h-11zM193 468h11v1h-11zM193 469h11v1h-11zM193 470h8v1h-8zM202 470h2v1h-2zM194 471h5v1h-5zM200 471h4v1h-4zM193 472h4v1h-4zM198 472h1v1h-1zM200 472h1v1h-1zM202 472h2v1h-2zM193 473h2v1h-2zM196 473h6v1h-6zM193 474h11v1h-11zM193 475h1v1h-1zM195 475h7v1h-7zM193 476h5v1h-5zM199 476h2v1h-2zM193 477h5v1h-5zM200 477h2v1h-2zM203 477h1v1h-1zM193 478h6v1h-6zM200 478h1v1h-1zM193 479h9v1h-9zM193 480h10v1h-10zM194 481h7v1h-7zM193 482h7v1h-7zM193 483h6v1h-6zM201 483h1v1h-1zM193 484h5v1h-5zM200 484h1v1h-1zM194 485h5v1h-5zM200 485h1v1h-1zM202 485h1v1h-1zM193 486h7v1h-7zM193 487h7v1h-7zM193 488h1v1h-1zM196 488h2v1h-2zM199 488h1v1h-1zM193 489h1v1h-1zM195 489h2v1h-2zM198 489h1v1h-1zM193 490h6v1h-6zM193 491h6v1h-6zM193 492h2v1h-2zM196 492h2v1h-2zM199 492h1v1h-1zM193 493h7v1h-7zM193 494h5v1h-5zM193 495h5v1h-5zM199 495h1v1h-1zM193 496h5v1h-5zM199 496h1v1h-1zM194 497h5v1h-5zM193 498h6v1h-6zM193 499h2v1h-2zM196 499h1v1h-1zM194 500h5v1h-5zM193 501h4v1h-4zM198 501h1v1h-1zM193 502h6v1h-6zM193 503h7v1h-7zM193 504h6v1h-6zM193 505h6v1h-6zM203 505h1v1h-1zM193 506h5v1h-5zM193 507h4v1h-4zM198 507h1v1h-1zM193 508h5v1h-5zM193 509h4v1h-4zM193 510h4v1h-4zM193 511h4v1h-4zM193 512h3v1h-3zM197 512h1v1h-1zM193 513h4v1h-4zM193 514h5v1h-5zM193 515h4v1h-4zM193 516h3v1h-3zM193 517h3v1h-3zM197 517h1v1h-1zM193 518h4v1h-4zM193 519h4v1h-4zM193 520h2v1h-2zM196 520h1v1h-1zM193 521h4v1h-4zM193 522h3v1h-3zM193 523h4v1h-4zM193 524h3v1h-3zM197 524h1v1h-1zM193 525h4v1h-4zM193 526h5v1h-5zM193 527h3v1h-3zM193 528h3v1h-3zM194 529h3v1h-3zM193 530h5v1h-5zM193 531h6v1h-6zM193 532h5v1h-5zM193 533h4v1h-4zM193 534h1v1h-1zM195 534h1v1h-1zM193 535h3v1h-3z" fill="#a8a8a8"/>
<path d="M219 456h10v1h-10zM219 457h10v1h-10zM219 458h10v1h-10zM219 459h10v1h-10zM219 460h10v1h-10zM219 461h10v1h-10zM219 462h10v1h-10zM219 463h10v1h-10zM219 464h10v1h-10zM219 465h10v1h-10zM219 466h10v1h-10zM219 467h10v1h-10zM219 468h10v1h-10zM219 469h10v1h-10zM219 470h10v1h-10zM219 471h10v1h-10zM219 472h10v1h-10zM219 473h10v1h-10zM219 474h10v1h-10zM219 475h10v1h-10zM219 476h10v1h-10zM219 477h10v1h-10zM219 478h10v1h-10zM219 479h10v1h-10zM219 480h10v1h-10zM219 481h2v1h-2zM222 481h5v1h-5zM228 481h1v1h-1zM219 482h8v1h-8zM219 483h9v1h-9zM219 484h7v1h-7zM219 485h6v1h-6zM219 486h5v1h-5zM225 486h1v1h-1zM219 487h5v1h-5zM225 487h1v1h-1zM219 488h4v1h-4zM226 488h1v1h-1zM219 489h4v1h-4zM219 490h6v1h-6zM219 491h3v1h-3zM219 492h4v1h-4zM227 492h1v1h-1zM219 493h5v1h-5zM219 494h4v1h-4zM220 495h4v1h-4zM219 496h6v1h-6zM219 497h6v1h-6zM219 498h5v1h-5zM219 499h1v1h-1zM221 499h2v1h-2zM224 499h1v1h-1zM219 500h4v1h-4zM224 500h1v1h-1zM219 501h1v1h-1zM221 501h2v1h-2zM224 501h1v1h-1zM219 502h6v1h-6zM219 503h5v1h-5zM219 504h4v1h-4zM224 504h1v1h-1zM219 505h4v1h-4zM219 506h5v1h-5zM219 507h4v1h-4zM219 508h6v1h-6zM219 509h4v1h-4zM219 510h1v1h-1zM221 510h1v1h-1zM219 511h1v1h-1zM221 511h2v1h-2zM219 512h5v1h-5zM219 513h5v1h-5zM219 514h4v1h-4zM219 515h4v1h-4zM219 516h3v1h-3zM223 516h1v1h-1zM219 517h3v1h-3zM219 518h4v1h-4zM219 519h4v1h-4zM224 519h1v1h-1zM219 520h4v1h-4zM219 521h6v1h-6zM219 522h5v1h-5zM227 522h1v1h-1zM219 523h6v1h-6zM219 524h5v1h-5zM228 524h1v1h-1zM219 525h4v1h-4zM228 525h1v1h-1zM219 526h4v1h-4zM219 527h1v1h-1zM221 527h4v1h-4zM219 528h4v1h-4zM219 529h2v1h-2zM219 530h3v1h-3zM219 531h3v1h-3zM223 531h1v1h-1zM219 532h4v1h-4zM219 533h4v1h-4zM219 534h2v1h-2zM219 535h3v1h-3zM223 535h1v1h-1z" fill="#a8a8a8"/>
<path d="M245 456h10v1h-10zM245 457h10v1h-10zM245 458h10v1h-10zM245 459h10v1h-10zM245 460h10v1h-10zM245 461h10v1h-10zM245 462h10v1h-10zM245 463h10v1h-10zM245 464h10v1h-10zM245 465h10v1h-10zM245 466h10v1h-10zM245 467h10v1h-10zM245 468h10v1h-10zM245 469h10v1h-10zM245 470h10v1h-10zM245 471h10v1h-10zM245 472h10v1h-10zM245 473h10v1h-10zM245 474h10v1h-10zM245 475h10v1h-10zM245 476h9v1h-9zM245 477h5v1h-5zM251 477h4v1h-4zM245 478h9v1h-9zM246 479h9v1h-9zM245 480h9v1h-9zM245 481h1v1h-1zM247 481h7v1h-7zM245 482h8v1h-8zM245 483h7v1h-7zM253 483h1v1h-1zM245 484h1v1h-1zM247 484h5v1h-5zM245 485h4v1h-4zM250 485h2v1h-2zM245 486h2v1h-2zM248 486h5v1h-5zM245 487h3v1h-3zM249 487h4v1h-4zM245 488h5v1h-5zM251 488h1v1h-1zM245 489h3v1h-3zM249 489h1v1h-1zM245 490h6v1h-6zM245 491h5v1h-5zM245 492h4v1h-4zM251 492h1v1h-1zM245 493h5v1h-5zM245 494h6v1h-6zM245 495h8v1h-8zM245 496h5v1h-5zM245 497h4v1h-4zM250 497h1v1h-1zM245 498h6v1h-6zM245 499h3v1h-3zM249 499h1v1h-1zM245 500h3v1h-3zM245 501h5v1h-5zM245 502h5v1h-5zM245 503h4v1h-4zM245 504h6v1h-6zM245 505h3v1h-3zM249 505h1v1h-1zM245 506h5v1h-5zM254 506h1v1h-1zM245 507h6v1h-6zM245 508h3v1h-3zM250 508h1v1h-1zM245 509h3v1h-3zM245 510h3v1h-3zM249 510h1v1h-1zM245 511h3v1h-3zM245 512h5v1h-5zM245 513h3v1h-3zM249 513h1v1h-1zM245 514h3v1h-3zM245 515h4v1h-4zM245 516h3v1h-3zM249 516h1v1h-1zM245 517h3v1h-3zM249 517h1v1h-1zM245 518h3v1h-3zM245 519h5v1h-5zM245 520h2v1h-2zM245 521h2v1h-2zM245 522h2v1h-2zM245 523h2v1h-2zM248 523h1v1h-1zM245 524h3v1h-3zM245 525h4v1h-4zM245 526h3v1h-3zM245 527h3v1h-3zM245 528h3v1h-3zM246 529h4v1h-4zM245 530h4v1h-4zM245 531h5v1h-5zM245 532h7v1h-7zM245 533h4v1h-4zM245 534h7v1h-7zM245 535h4v1h-4zM250 535h1v1h-1z" fill="#a8a8a8"/>
<path d="M271 456h10v1h-10zM271 457h10v1h-10zM271 458h10v1h-10zM271 459h10v1h-10zM271 460h10v1h-10zM271 461h10v1h-10zM271 462h10v1h-10zM271 463h10v1h-10zM271 464h10v1h-10zM271 465h10v1h-10zM271 466h10v1h-10zM271 467h10v1h-10zM271 468h10v1h-10zM271 469h10v1h-10zM271 470h10v1h-10zM271 471h10v1h-10zM271 472h10v1h-10zM271 473h10v1h-10zM271 474h10v1h-10zM271 475h10v1h-10zM271 476h10v1h-10zM271 477h10v1h-10zM271 478h10v1h-10zM271 479h5v1h-5zM277 479h4v1h-4zM272 480h7v1h-7zM280 480h1v1h-1zM271 481h7v1h-7zM280 481h1v1h-1zM272 482h5v1h-5zM278 482h1v1h-1zM271 483h6v1h-6zM278 483h1v1h-1zM271 484h7v1h-7zM271 485h7v1h-7zM271 486h4v1h-4zM276 486h1v1h-1zM280 486h1v1h-1zM271 487h4v1h-4zM271 488h4v1h-4zM271 489h3v1h-3zM280 489h1v1h-1zM272 490h2v1h-2zM276 490h2v1h-2zM271 491h3v1h-3zM278 491h1v1h-1zM271 492h2v1h-2zM274 492h1v1h-1zM271 493h4v1h-4zM276 493h1v1h-1zM271 494h4v1h-4zM276 494h1v1h-1zM271 495h4v1h-4zM278 495h1v1h-1zM271 496h3v1h-3zM271 497h4v1h-4zM272 498h2v1h-2zM271 499h5v1h-5zM271 500h5v1h-5zM271 501h4v1h-4zM271 502h2v1h-2zM271 503h2v1h-2zM271 504h3v1h-3zM271 505h4v1h-4zM271 506h3v1h-3zM271 507h3v1h-3zM271 508h2v1h-2zM271 509h3v1h-3zM272 510h2v1h-2zM271 511h2v1h-2zM274 511h1v1h-1zM271 512h2v1h-2zM274 512h1v1h-1zM271 513h4v1h-4zM272 514h2v1h-2zM275 514h1v1h-1zM272 515h2v1h-2zM275 515h1v1h-1zM271 516h3v1h-3zM275 516h1v1h-1zM271 517h4v1h-4zM271 518h4v1h-4zM271 519h3v1h-3zM271 520h5v1h-5zM271 521h4v1h-4zM271 522h4v1h-4zM271 523h3v1h-3zM272 524h2v1h-2zM277 524h1v1h-1zM271 525h4v1h-4zM271 526h4v1h-4zM271 527h4v1h-4zM271 528h3v1h-3zM271 529h5v1h-5zM271 530h3v1h-3zM271 531h1v1h-1zM271 532h2v1h-2zM271 533h2v1h-2zM271 534h2v1h-2zM271 535h5v1h-5z" fill="#a8a8a8"/>
<path d="M296 455h9v1h-9zM296 456h9v1h-9zM296 457h9v1h-9zM296 458h9v1h-9zM296 459h9v1h-9zM296 460h9v1h-9zM296 461h9v1h-9zM296 462h9v1h-9zM296 463h9v1h-9zM296 464h9v1h-9zM296 465h9v1h-9zM296 466h9v1h-9zM296 467h9v1h-9zM296 468h9v1h-9zM296 469h9v1h-9zM296 470h9v1h-9zM296 471h9v1h-9zM296 472h9v1h-9zM296 473h9v1h-9zM296 474h9v1h-9zM296 475h9v1h-9zM296 476h9v1h-9zM296 477h9v1h-9zM296 478h9v1h-9zM296 479h9v1h-9zM296 480h9v1h-9zM296 481h9v1h-9zM296 482h8v1h-8zM296 483h2v1h-2zM299 483h3v1h-3zM296 484h9v1h-9zM296 485h7v1h-7zM296 486h4v1h-4zM296 487h3v1h-3zM300 487h1v1h-1zM296 488h4v1h-4zM302 488h1v1h-1zM296 489h2v1h-2zM296 490h3v1h-3zM300 490h1v1h-1zM304 490h1v1h-1zM296 491h5v1h-5zM302 491h1v1h-1zM296 492h4v1h-4zM304 492h1v1h-1zM296 493h2v1h-2zM296 494h5v1h-5zM296 495h4v1h-4zM296 496h4v1h-4zM296 497h4v1h-4zM303 497h1v1h-1zM296 498h2v1h-2zM296 499h4v1h-4zM296 500h4v1h-4zM296 501h3v1h-3zM296 502h4v1h-4zM304 502h1v1h-1zM296 503h3v1h-3zM296 504h4v1h-4zM296 505h2v1h-2zM299 505h1v1h-1zM296 506h2v1h-2zM296 507h3v1h-3zM296 508h2v1h-2zM299 508h1v1h-1zM296 509h2v1h-2zM299 509h1v1h-1zM304 509h1v1h-1zM296 510h3v1h-3zM296 511h4v1h-4zM296 512h4v1h-4zM296 513h2v1h-2zM299 513h1v1h-1zM296 514h3v1h-3zM296 515h4v1h-4zM296 516h3v1h-3zM300 516h1v1h-1zM296 517h4v1h-4zM296 518h2v1h-2zM296 519h1v1h-1zM298 519h1v1h-1zM296 520h4v1h-4zM296 521h1v1h-1zM302 521h1v1h-1zM296 522h2v1h-2zM297 523h3v1h-3zM296 524h2v1h-2zM299 524h1v1h-1zM296 525h2v1h-2zM299 525h1v1h-1zM296 526h1v1h-1zM298 526h2v1h-2zM296 527h2v1h-2zM299 527h1v1h-1zM296 528h2v1h-2zM299 528h1v1h-1zM296 529h2v1h-2zM296 530h3v1h-3zM302 530h1v1h-1zM296 531h3v1h-3zM296 532h3v1h-3zM296 533h4v1h-4zM296 534h3v1h-3zM296 535h3v1h-3zM300 535h1v1h-1z" fill="#a8a8a8"/>
<line x1="112.00" y1="536.30" x2="318.00" y2="536.30" stroke="#aaa" stroke-width="0.7" stroke-dasharray="3 4"/>
<text x="121.95" y="448.90" font-size="10.0" text-anchor="middle" fill="#000" stroke="#000" stroke-width="0.1" >261</text>
<text x="147.10" y="447.50" font-size="10.0" text-anchor="middle" fill="#000" stroke="#000" stroke-width="0.1" >263</text>
<text x="172.80" y="448.90" font-size="10.0" text-anchor="middle" fill="#000" stroke="#000" stroke-width="0.1" >259</text>
<text x="198.40" y="448.90" font-size="10.0" text-anchor="middle" fill="#000" stroke="#000" stroke-width="0.1" >259</text>
<text x="223.95" y="448.00" font-size="10.0" text-anchor="middle" fill="#000" stroke="#000" stroke-width="0.1" >261</text>
<text x="249.75" y="448.00" font-size="10.0" text-anchor="middle" fill="#000" stroke="#000" stroke-width="0.1" >261</text>
<text x="275.88" y="446.30" font-size="10.0" text-anchor="middle" fill="#000" stroke="#000" stroke-width="0.1" >262</text>
<text x="301.07" y="447.50" font-size="10.0" text-anchor="middle" fill="#000" stroke="#000" stroke-width="0.1" >263</text>
<text x="121.95" y="546.20" font-size="5.6" text-anchor="middle" fill="#333" stroke="#333" stroke-width="0.1" >2011</text>
<text x="147.10" y="546.20" font-size="5.6" text-anchor="middle" fill="#333" stroke="#333" stroke-width="0.1" >2012</text>
<text x="172.80" y="546.20" font-size="5.6" text-anchor="middle" fill="#333" stroke="#333" stroke-width="0.1" >2013</text>
<text x="198.40" y="546.20" font-size="5.6" text-anchor="middle" fill="#333" stroke="#333" stroke-width="0.1" >2014</text>
<text x="223.95" y="546.20" font-size="5.6" text-anchor="middle" fill="#333" stroke="#333" stroke-width="0.1" >2015</text>
<text x="223.95" y="554.00" font-size="5.2" text-anchor="middle" fill="#444" stroke="#444" stroke-width="0.1" textLength="18.8" lengthAdjust="spacingAndGlyphs">(оценка)</text>
<text x="249.75" y="546.20" font-size="5.6" text-anchor="middle" fill="#333" stroke="#333" stroke-width="0.1" >2016</text>
<text x="249.75" y="554.00" font-size="5.2" text-anchor="middle" fill="#444" stroke="#444" stroke-width="0.1" textLength="20.0" lengthAdjust="spacingAndGlyphs">(прогноз)</text>
<text x="275.88" y="546.20" font-size="5.6" text-anchor="middle" fill="#333" stroke="#333" stroke-width="0.1" >2017</text>
<text x="275.88" y="554.00" font-size="5.2" text-anchor="middle" fill="#444" stroke="#444" stroke-width="0.1" textLength="20.0" lengthAdjust="spacingAndGlyphs">(прогноз)</text>
<text x="301.07" y="546.20" font-size="5.6" text-anchor="middle" fill="#333" stroke="#333" stroke-width="0.1" >2018</text>
<text x="301.07" y="554.00" font-size="5.2" text-anchor="middle" fill="#444" stroke="#444" stroke-width="0.1" textLength="20.0" lengthAdjust="spacingAndGlyphs">(прогноз)</text>
<text x="463.60" y="409.80" font-size="10.8" text-anchor="middle" fill="#000" stroke="#000" stroke-width="0.1" >Овощи и бахчевые</text>
<text x="463.60" y="423.10" font-size="10.8" text-anchor="middle" fill="#000" stroke="#000" stroke-width="0.1" >(в килограммах)</text>
<line x1="355.30" y1="440.20" x2="355.30" y2="539.20" stroke="#888" stroke-width="0.7" stroke-dasharray="4 1.5"/>
<text x="351.00" y="443.90" font-size="6.2" text-anchor="end" fill="#111" stroke="#111" stroke-width="0.1" >100</text>
<text x="351.00" y="492.20" font-size="6.2" text-anchor="end" fill="#111" stroke="#111" stroke-width="0.1" >75</text>
<text x="351.00" y="541.40" font-size="6.2" text-anchor="end" fill="#111" stroke="#111" stroke-width="0.1" >50</text>
<rect x="363.40" y="455.00" width="9.80" height="83.30" fill="#000"/>
<rect x="388.80" y="456.90" width="9.80" height="81.40" fill="#000"/>
<rect x="414.20" y="455.00" width="8.80" height="83.30" fill="#000"/>
<rect x="439.20" y="455.00" width="8.90" height="83.30" fill="#000"/>
<rect x="465.20" y="455.00" width="9.70" height="83.30" fill="#000"/>
<rect x="490.50" y="452.60" width="9.20" height="85.70" fill="#000"/>
<rect x="516.50" y="450.60" width="10.00" height="87.70" fill="#000"/>
<rect x="542.00" y="448.60" width="8.90" height="89.70" fill="#000"/>
<text x="368.30" y="447.20" font-size="10.0" text-anchor="middle" fill="#000" stroke="#000" stroke-width="0.1" >93</text>
<text x="393.70" y="448.90" font-size="10.0" text-anchor="middle" fill="#000" stroke="#000" stroke-width="0.1" >92</text>
<text x="418.60" y="446.30" font-size="10.0" text-anchor="middle" fill="#000" stroke="#000" stroke-width="0.1" >93</text>
<text x="443.65" y="447.20" font-size="10.0" text-anchor="middle" fill="#000" stroke="#000" stroke-width="0.1" >93</text>
<text x="470.05" y="446.80" font-size="10.0" text-anchor="middle" fill="#000" stroke="#000" stroke-width="0.1" >93</text>
<text x="495.10" y="444.60" font-size="10.0" text-anchor="middle" fill="#000" stroke="#000" stroke-width="0.1" >94</text>
<text x="521.50" y="441.20" font-size="10.0" text-anchor="middle" fill="#000" stroke="#000" stroke-width="0.1" >95</text>
<text x="546.45" y="441.20" font-size="10.0" text-anchor="middle" fill="#000" stroke="#000" stroke-width="0.1" >96</text>
<text x="368.30" y="548.80" font-size="5.6" text-anchor="middle" fill="#333" stroke="#333" stroke-width="0.1" >2011</text>
<text x="393.70" y="548.80" font-size="5.6" text-anchor="middle" fill="#333" stroke="#333" stroke-width="0.1" >2012</text>
<text x="418.60" y="548.80" font-size="5.6" text-anchor="middle" fill="#333" stroke="#333" stroke-width="0.1" >2013</text>
<text x="443.65" y="548.80" font-size="5.6" text-anchor="middle" fill="#333" stroke="#333" stroke-width="0.1" >2014</text>
<text x="470.05" y="548.80" font-size="5.6" text-anchor="middle" fill="#333" stroke="#333" stroke-width="0.1" >2015</text>
<text x="470.05" y="556.30" font-size="5.2" text-anchor="middle" fill="#444" stroke="#444" stroke-width="0.1" textLength="18.8" lengthAdjust="spacingAndGlyphs">(оценка)</text>
<text x="495.10" y="548.80" font-size="5.6" text-anchor="middle" fill="#333" stroke="#333" stroke-width="0.1" >2016</text>
<text x="495.10" y="556.30" font-size="5.2" text-anchor="middle" fill="#444" stroke="#444" stroke-width="0.1" textLength="20.0" lengthAdjust="spacingAndGlyphs">(прогноз)</text>
<text x="521.50" y="548.80" font-size="5.6" text-anchor="middle" fill="#333" stroke="#333" stroke-width="0.1" >2017</text>
<text x="521.50" y="556.30" font-size="5.2" text-anchor="middle" fill="#444" stroke="#444" stroke-width="0.1" textLength="20.0" lengthAdjust="spacingAndGlyphs">(прогноз)</text>
<text x="546.45" y="548.80" font-size="5.6" text-anchor="middle" fill="#333" stroke="#333" stroke-width="0.1" >2018</text>
<text x="546.45" y="556.30" font-size="5.2" text-anchor="middle" fill="#444" stroke="#444" stroke-width="0.1" textLength="20.0" lengthAdjust="spacingAndGlyphs">(прогноз)</text>
<text x="220.60" y="661.60" font-size="10.8" text-anchor="middle" fill="#000" stroke="#000" stroke-width="0.1" >Рыба и рыбопродукты</text>
<text x="220.60" y="675.20" font-size="10.8" text-anchor="middle" fill="#000" stroke="#000" stroke-width="0.1" >(в килограммах)</text>
<line x1="108.40" y1="681.80" x2="108.40" y2="790.30" stroke="#999" stroke-width="0.7"/>
<text x="104.50" y="684.00" font-size="6.2" text-anchor="end" fill="#111" stroke="#111" stroke-width="0.1" >16</text>
<text x="104.50" y="697.56" font-size="6.2" text-anchor="end" fill="#111" stroke="#111" stroke-width="0.1" >15</text>
<text x="104.50" y="711.12" font-size="6.2" text-anchor="end" fill="#111" stroke="#111" stroke-width="0.1" >14</text>
<text x="104.50" y="724.69" font-size="6.2" text-anchor="end" fill="#111" stroke="#111" stroke-width="0.1" >13</text>
<text x="104.50" y="738.25" font-size="6.2" text-anchor="end" fill="#111" stroke="#111" stroke-width="0.1" >12</text>
<text x="104.50" y="751.81" font-size="6.2" text-anchor="end" fill="#111" stroke="#111" stroke-width="0.1" >11</text>
<text x="104.50" y="765.38" font-size="6.2" text-anchor="end" fill="#111" stroke="#111" stroke-width="0.1" >10</text>
<text x="104.50" y="778.94" font-size="6.2" text-anchor="end" fill="#111" stroke="#111" stroke-width="0.1" >9</text>
<text x="104.50" y="792.50" font-size="6.2" text-anchor="end" fill="#111" stroke="#111" stroke-width="0.1" >8</text>
<rect x="117.00" y="709.00" width="11.00" height="81.00" fill="#a8a8a8"/>
<path d="M117 709h8v1h-8zM117 710h8v1h-8zM117 711h8v1h-8zM117 712h8v1h-8zM126 712h1v1h-1zM117 713h8v1h-8zM126 713h1v1h-1zM117 714h8v1h-8zM126 714h2v1h-2zM117 715h8v1h-8zM126 715h1v1h-1zM117 716h9v1h-9zM117 717h10v1h-10zM117 718h10v1h-10zM117 719h9v1h-9zM117 720h10v1h-10zM117 721h1v1h-1zM121 721h5v1h-5zM120 722h3v1h-3zM124 722h1v1h-1zM117 723h9v1h-9zM117 724h7v1h-7zM117 725h9v1h-9zM117 726h3v1h-3zM121 726h5v1h-5zM117 727h3v1h-3zM121 727h5v1h-5zM117 728h7v1h-7zM117 729h7v1h-7zM117 730h9v1h-9zM117 731h7v1h-7zM125 731h1v1h-1zM117 732h7v1h-7zM117 733h3v1h-3zM121 733h1v1h-1zM123 733h1v1h-1zM125 733h1v1h-1zM117 734h2v1h-2zM120 734h4v1h-4zM125 734h1v1h-1zM117 735h7v1h-7zM117 736h6v1h-6zM117 737h6v1h-6zM126 737h1v1h-1zM117 738h8v1h-8zM117 739h5v1h-5zM125 739h1v1h-1zM117 740h9v1h-9zM117 741h6v1h-6zM124 741h1v1h-1zM117 742h8v1h-8zM127 742h1v1h-1zM117 743h7v1h-7zM117 744h7v1h-7zM117 745h5v1h-5zM123 745h1v1h-1zM125 745h1v1h-1zM117 746h7v1h-7zM125 746h1v1h-1zM118 747h7v1h-7zM117 748h4v1h-4zM122 748h4v1h-4zM117 749h9v1h-9zM117 750h9v1h-9zM117 751h8v1h-8zM117 752h6v1h-6zM124 752h1v1h-1zM117 753h9v1h-9zM117 754h3v1h-3zM121 754h5v1h-5zM117 755h7v1h-7zM117 756h8v1h-8zM126 756h1v1h-1zM117 757h3v1h-3zM123 757h1v1h-1zM117 758h1v1h-1zM119 758h7v1h-7zM117 759h9v1h-9zM117 760h8v1h-8zM117 761h8v1h-8zM117 762h9v1h-9zM117 763h6v1h-6zM117 764h7v1h-7zM117 765h7v1h-7zM117 766h8v1h-8zM117 767h7v1h-7zM117 768h7v1h-7zM125 768h1v1h-1zM117 769h7v1h-7zM117 770h2v1h-2zM120 770h4v1h-4zM117 771h3v1h-3zM121 771h1v1h-1zM124 771h1v1h-1zM117 772h2v1h-2zM120 772h5v1h-5zM126 772h1v1h-1zM117 773h1v1h-1zM119 773h1v1h-1zM121 773h1v1h-1zM126 773h1v1h-1zM117 774h3v1h-3zM121 774h1v1h-1zM123 774h1v1h-1zM127 774h1v1h-1zM117 775h3v1h-3zM124 775h1v1h-1zM118 776h1v1h-1zM121 776h1v1h-1zM117 777h2v1h-2zM120 777h1v1h-1zM118 778h2v1h-2zM117 779h2v1h-2zM125 779h1v1h-1zM121 780h1v1h-1zM124 780h1v1h-1zM121 781h1v1h-1zM118 782h1v1h-1zM117 783h2v1h-2zM121 783h2v1h-2zM119 784h1v1h-1zM127 784h1v1h-1zM122 786h2v1h-2zM127 786h1v1h-1zM117 787h1v1h-1zM125 788h1v1h-1zM121 789h1v1h-1zM125 789h1v1h-1z" fill="#525252"/>
<rect x="144.00" y="709.00" width="11.00" height="81.00" fill="#a8a8a8"/>
<path d="M144 709h8v1h-8zM144 710h9v1h-9zM144 711h9v1h-9zM144 712h9v1h-9zM144 713h9v1h-9zM144 714h9v1h-9zM144 715h8v1h-8zM144 716h8v1h-8zM153 716h1v1h-1zM144 717h8v1h-8zM144 718h9v1h-9zM144 719h8v1h-8zM144 720h8v1h-8zM153 720h1v1h-1zM144 721h6v1h-6zM151 721h2v1h-2zM144 722h10v1h-10zM145 723h8v1h-8zM154 723h1v1h-1zM144 724h9v1h-9zM154 724h1v1h-1zM144 725h9v1h-9zM144 726h9v1h-9zM154 726h1v1h-1zM144 727h10v1h-10zM144 728h10v1h-10zM144 729h8v1h-8zM144 730h9v1h-9zM154 730h1v1h-1zM147 731h8v1h-8zM145 732h1v1h-1zM147 732h6v1h-6zM144 733h8v1h-8zM144 734h8v1h-8zM153 734h1v1h-1zM144 735h5v1h-5zM150 735h5v1h-5zM144 736h10v1h-10zM144 737h1v1h-1zM146 737h7v1h-7zM144 738h10v1h-10zM144 739h9v1h-9zM144 740h7v1h-7zM144 741h9v1h-9zM154 741h1v1h-1zM144 742h5v1h-5zM150 742h3v1h-3zM144 743h10v1h-10zM144 744h10v1h-10zM144 745h4v1h-4zM151 745h1v1h-1zM144 746h10v1h-10zM144 747h10v1h-10zM144 748h10v1h-10zM144 749h6v1h-6zM151 749h3v1h-3zM144 750h3v1h-3zM148 750h6v1h-6zM144 751h3v1h-3zM150 751h5v1h-5zM144 752h8v1h-8zM153 752h2v1h-2zM144 753h4v1h-4zM149 753h6v1h-6zM144 754h9v1h-9zM154 754h1v1h-1zM144 755h3v1h-3zM148 755h1v1h-1zM150 755h3v1h-3zM154 755h1v1h-1zM144 756h10v1h-10zM144 757h10v1h-10zM144 758h2v1h-2zM147 758h2v1h-2zM150 758h3v1h-3zM154 758h1v1h-1zM144 759h9v1h-9zM154 759h1v1h-1zM144 760h5v1h-5zM150 760h5v1h-5zM144 761h6v1h-6zM151 761h2v1h-2zM144 762h8v1h-8zM153 762h1v1h-1zM144 763h1v1h-1zM146 763h7v1h-7zM144 764h1v1h-1zM147 764h8v1h-8zM144 765h8v1h-8zM154 765h1v1h-1zM144 766h8v1h-8zM153 766h1v1h-1zM144 767h10v1h-10zM145 768h1v1h-1zM147 768h1v1h-1zM151 768h1v1h-1zM153 768h1v1h-1zM145 769h2v1h-2zM154 769h1v1h-1zM144 770h2v1h-2zM147 770h1v1h-1zM144 771h2v1h-2zM148 771h1v1h-1zM144 772h3v1h-3zM148 772h1v1h-1zM150 772h1v1h-1zM144 773h1v1h-1zM148 773h1v1h-1zM144 775h2v1h-2zM148 775h1v1h-1zM153 776h1v1h-1zM144 777h1v1h-1zM146 777h1v1h-1zM149 777h1v1h-1zM152 778h1v1h-1zM145 779h1v1h-1zM146 780h1v1h-1zM146 782h1v1h-1zM147 783h1v1h-1zM152 783h1v1h-1zM147 785h1v1h-1zM144 786h1v1h-1zM146 786h1v1h-1zM145 789h1v1h-1zM149 789h3v1h-3z" fill="#525252"/>
<rect x="172.00" y="708.00" width="11.00" height="82.00" fill="#a8a8a8"/>
<path d="M172 708h5v1h-5zM178 708h2v1h-2zM173 709h8v1h-8zM182 709h1v1h-1zM172 710h11v1h-11zM172 711h11v1h-11zM172 712h10v1h-10zM172 713h11v1h-11zM172 714h10v1h-10zM172 715h11v1h-11zM172 716h10v1h-10zM172 717h11v1h-11zM172 718h11v1h-11zM172 719h9v1h-9zM172 720h5v1h-5zM178 720h2v1h-2zM181 720h1v1h-1zM172 721h8v1h-8zM172 722h8v1h-8zM172 723h7v1h-7zM180 723h1v1h-1zM172 724h7v1h-7zM172 725h6v1h-6zM172 726h7v1h-7zM172 727h8v1h-8zM172 728h7v1h-7zM172 729h8v1h-8zM172 730h2v1h-2zM175 730h5v1h-5zM172 731h7v1h-7zM182 731h1v1h-1zM172 732h8v1h-8zM172 733h6v1h-6zM182 733h1v1h-1zM172 734h8v1h-8zM182 734h1v1h-1zM172 735h7v1h-7zM172 736h8v1h-8zM181 736h1v1h-1zM172 737h8v1h-8zM172 738h9v1h-9zM182 738h1v1h-1zM172 739h9v1h-9zM172 740h3v1h-3zM178 740h4v1h-4zM172 741h2v1h-2zM175 741h5v1h-5zM172 742h11v1h-11zM172 743h7v1h-7zM180 743h1v1h-1zM172 744h4v1h-4zM178 744h1v1h-1zM180 744h1v1h-1zM172 745h5v1h-5zM180 745h1v1h-1zM182 745h1v1h-1zM172 746h8v1h-8zM172 747h7v1h-7zM180 747h1v1h-1zM172 748h8v1h-8zM181 748h1v1h-1zM172 749h7v1h-7zM180 749h1v1h-1zM172 750h8v1h-8zM172 751h10v1h-10zM172 752h10v1h-10zM172 753h8v1h-8zM181 753h1v1h-1zM172 754h7v1h-7zM180 754h1v1h-1zM182 754h1v1h-1zM172 755h9v1h-9zM172 756h2v1h-2zM175 756h4v1h-4zM180 756h1v1h-1zM172 757h2v1h-2zM177 757h2v1h-2zM180 757h1v1h-1zM172 758h10v1h-10zM172 759h8v1h-8zM181 759h1v1h-1zM172 760h7v1h-7zM172 761h4v1h-4zM177 761h3v1h-3zM181 761h1v1h-1zM172 762h3v1h-3zM176 762h6v1h-6zM172 763h8v1h-8zM181 763h1v1h-1zM172 764h10v1h-10zM172 765h1v1h-1zM174 765h1v1h-1zM176 765h1v1h-1zM178 765h1v1h-1zM180 765h2v1h-2zM172 766h1v1h-1zM175 766h2v1h-2zM178 766h2v1h-2zM181 766h1v1h-1zM173 767h7v1h-7zM173 768h3v1h-3zM172 769h2v1h-2zM175 769h1v1h-1zM177 769h1v1h-1zM172 770h1v1h-1zM174 770h2v1h-2zM173 771h1v1h-1zM176 771h1v1h-1zM173 772h1v1h-1zM176 772h1v1h-1zM179 772h1v1h-1zM177 773h1v1h-1zM172 774h1v1h-1zM180 774h1v1h-1zM173 775h1v1h-1zM177 775h1v1h-1zM177 779h2v1h-2zM172 781h1v1h-1zM180 781h1v1h-1zM174 782h1v1h-1zM180 783h1v1h-1zM180 784h1v1h-1zM178 785h1v1h-1zM180 785h1v1h-1zM177 786h1v1h-1zM179 787h1v1h-1z" fill="#525252"/>
<rect x="199.00" y="708.00" width="11.00" height="82.00" fill="#a8a8a8"/>
<path d="M199 708h4v1h-4zM204 708h2v1h-2zM207 708h1v1h-1zM199 709h9v1h-9zM199 710h3v1h-3zM203 710h1v1h-1zM199 711h1v1h-1zM201 711h2v1h-2zM204 711h2v1h-2zM199 712h8v1h-8zM199 713h7v1h-7zM207 713h1v1h-1zM199 714h7v1h-7zM208 714h1v1h-1zM199 715h8v1h-8zM199 716h7v1h-7zM199 717h6v1h-6zM200 718h5v1h-5zM199 719h9v1h-9zM199 720h7v1h-7zM199 721h9v1h-9zM199 722h7v1h-7zM207 722h1v1h-1zM199 723h8v1h-8zM199 724h8v1h-8zM199 725h9v1h-9zM199 726h7v1h-7zM199 727h6v1h-6zM199 728h8v1h-8zM199 729h7v1h-7zM199 730h9v1h-9zM209 730h1v1h-1zM199 731h9v1h-9zM199 732h6v1h-6zM199 733h6v1h-6zM206 733h1v1h-1zM199 734h2v1h-2zM202 734h4v1h-4zM199 735h9v1h-9zM199 736h10v1h-10zM199 737h8v1h-8zM199 738h8v1h-8zM208 738h1v1h-1zM199 739h8v1h-8zM199 740h1v1h-1zM201 740h6v1h-6zM199 741h2v1h-2zM202 741h5v1h-5zM199 742h10v1h-10zM199 743h10v1h-10zM199 744h8v1h-8zM208 744h1v1h-1zM199 745h10v1h-10zM199 746h10v1h-10zM199 747h8v1h-8zM208 747h1v1h-1zM199 748h8v1h-8zM199 749h8v1h-8zM199 750h10v1h-10zM199 751h10v1h-10zM199 752h2v1h-2zM204 752h4v1h-4zM199 753h8v1h-8zM199 754h8v1h-8zM208 754h2v1h-2zM199 755h10v1h-10zM199 756h9v1h-9zM199 757h10v1h-10zM199 758h9v1h-9zM199 759h1v1h-1zM201 759h7v1h-7zM209 759h1v1h-1zM199 760h7v1h-7zM207 760h2v1h-2zM199 761h8v1h-8zM208 761h1v1h-1zM199 762h10v1h-10zM199 763h10v1h-10zM199 764h9v1h-9zM199 765h8v1h-8zM199 766h8v1h-8zM208 766h1v1h-1zM199 767h9v1h-9zM199 768h9v1h-9zM199 769h8v1h-8zM208 769h1v1h-1zM199 770h4v1h-4zM204 770h1v1h-1zM207 770h1v1h-1zM200 771h1v1h-1zM206 771h1v1h-1zM208 771h1v1h-1zM199 772h1v1h-1zM201 772h1v1h-1zM203 772h1v1h-1zM206 772h1v1h-1zM199 773h2v1h-2zM203 773h1v1h-1zM199 774h1v1h-1zM202 774h1v1h-1zM199 775h3v1h-3zM200 777h1v1h-1zM203 777h1v1h-1zM208 777h1v1h-1zM201 779h1v1h-1zM203 779h1v1h-1zM203 780h1v1h-1zM207 780h1v1h-1zM204 781h1v1h-1zM204 782h1v1h-1zM200 783h1v1h-1zM206 783h1v1h-1zM200 785h2v1h-2zM203 786h2v1h-2zM206 787h1v1h-1zM201 788h1v1h-1zM206 788h1v1h-1zM204 789h1v1h-1zM206 789h2v1h-2z" fill="#525252"/>
<rect x="227.00" y="708.00" width="11.00" height="82.00" fill="#a8a8a8"/>
<path d="M227 708h5v1h-5zM233 708h3v1h-3zM227 709h9v1h-9zM227 710h4v1h-4zM233 710h2v1h-2zM236 710h1v1h-1zM227 711h7v1h-7zM235 711h1v1h-1zM237 711h1v1h-1zM230 712h4v1h-4zM235 712h1v1h-1zM227 713h2v1h-2zM232 713h2v1h-2zM235 713h1v1h-1zM227 714h9v1h-9zM227 715h10v1h-10zM227 716h8v1h-8zM236 716h1v1h-1zM227 717h6v1h-6zM227 718h9v1h-9zM237 718h1v1h-1zM227 719h8v1h-8zM227 720h10v1h-10zM227 721h8v1h-8zM236 721h1v1h-1zM227 722h4v1h-4zM232 722h1v1h-1zM227 723h7v1h-7zM235 723h1v1h-1zM227 724h8v1h-8zM227 725h7v1h-7zM227 726h7v1h-7zM227 727h9v1h-9zM227 728h6v1h-6zM234 728h1v1h-1zM227 729h4v1h-4zM234 729h1v1h-1zM236 729h1v1h-1zM227 730h8v1h-8zM228 731h6v1h-6zM227 732h8v1h-8zM236 732h1v1h-1zM227 733h7v1h-7zM235 733h1v1h-1zM227 734h8v1h-8zM227 735h8v1h-8zM227 736h1v1h-1zM230 736h4v1h-4zM236 736h1v1h-1zM227 737h7v1h-7zM227 738h1v1h-1zM229 738h5v1h-5zM235 738h1v1h-1zM227 739h5v1h-5zM233 739h1v1h-1zM235 739h1v1h-1zM237 739h1v1h-1zM227 740h1v1h-1zM229 740h6v1h-6zM227 741h6v1h-6zM227 742h2v1h-2zM230 742h6v1h-6zM227 743h8v1h-8zM227 744h9v1h-9zM227 745h3v1h-3zM231 745h4v1h-4zM227 746h2v1h-2zM232 746h2v1h-2zM227 747h7v1h-7zM235 747h1v1h-1zM227 748h7v1h-7zM235 748h2v1h-2zM227 749h8v1h-8zM227 750h8v1h-8zM236 750h2v1h-2zM228 751h8v1h-8zM227 752h8v1h-8zM227 753h10v1h-10zM227 754h8v1h-8zM227 755h7v1h-7zM227 756h8v1h-8zM227 757h8v1h-8zM227 758h7v1h-7zM236 758h1v1h-1zM227 759h8v1h-8zM227 760h7v1h-7zM237 760h1v1h-1zM227 761h1v1h-1zM230 761h3v1h-3zM227 762h1v1h-1zM229 762h1v1h-1zM231 762h3v1h-3zM235 762h1v1h-1zM229 763h2v1h-2zM232 763h2v1h-2zM228 764h1v1h-1zM230 764h1v1h-1zM232 764h1v1h-1zM229 765h2v1h-2zM233 765h1v1h-1zM230 766h1v1h-1zM232 766h1v1h-1zM231 767h1v1h-1zM227 768h3v1h-3zM229 769h1v1h-1zM228 770h1v1h-1zM227 773h2v1h-2zM230 776h1v1h-1zM233 778h1v1h-1zM227 780h1v1h-1zM229 780h1v1h-1zM228 781h1v1h-1zM232 781h1v1h-1zM230 782h1v1h-1zM234 782h1v1h-1zM230 783h2v1h-2zM234 784h1v1h-1zM233 785h1v1h-1zM232 786h1v1h-1zM232 787h1v1h-1zM234 789h1v1h-1z" fill="#525252"/>
<rect x="254.00" y="708.00" width="11.00" height="82.00" fill="#a8a8a8"/>
<path d="M254 708h9v1h-9zM254 709h10v1h-10zM254 710h8v1h-8zM254 711h8v1h-8zM254 712h8v1h-8zM254 713h11v1h-11zM254 714h10v1h-10zM254 715h9v1h-9zM254 716h8v1h-8zM263 716h1v1h-1zM254 717h8v1h-8zM263 717h1v1h-1zM254 718h8v1h-8zM254 719h8v1h-8zM254 720h7v1h-7zM254 721h8v1h-8zM263 721h1v1h-1zM254 722h7v1h-7zM262 722h1v1h-1zM254 723h3v1h-3zM258 723h3v1h-3zM262 723h1v1h-1zM254 724h7v1h-7zM262 724h2v1h-2zM254 725h4v1h-4zM259 725h1v1h-1zM254 726h8v1h-8zM254 727h1v1h-1zM258 727h1v1h-1zM260 727h1v1h-1zM262 727h1v1h-1zM254 728h5v1h-5zM260 728h3v1h-3zM254 729h8v1h-8zM264 729h1v1h-1zM254 730h9v1h-9zM254 731h9v1h-9zM254 732h7v1h-7zM264 732h1v1h-1zM254 733h9v1h-9zM264 733h1v1h-1zM254 734h6v1h-6zM254 735h7v1h-7zM254 736h3v1h-3zM260 736h1v1h-1zM262 736h1v1h-1zM254 737h6v1h-6zM261 737h1v1h-1zM254 738h6v1h-6zM257 739h3v1h-3zM261 739h1v1h-1zM254 740h8v1h-8zM254 741h7v1h-7zM254 742h8v1h-8zM254 743h8v1h-8zM254 744h2v1h-2zM257 744h5v1h-5zM254 745h9v1h-9zM254 746h2v1h-2zM257 746h5v1h-5zM254 747h3v1h-3zM254 748h7v1h-7zM262 748h2v1h-2zM254 749h6v1h-6zM261 749h1v1h-1zM254 750h3v1h-3zM260 750h1v1h-1zM255 751h5v1h-5zM261 751h1v1h-1zM254 752h7v1h-7zM262 752h1v1h-1zM264 752h1v1h-1zM254 753h7v1h-7zM254 754h9v1h-9zM254 755h3v1h-3zM260 755h3v1h-3zM254 756h8v1h-8zM254 757h8v1h-8zM254 758h9v1h-9zM254 759h3v1h-3zM258 759h3v1h-3zM262 759h1v1h-1zM254 760h10v1h-10zM254 761h8v1h-8zM263 761h1v1h-1zM254 762h9v1h-9zM264 762h1v1h-1zM254 763h4v1h-4zM259 763h6v1h-6zM254 764h9v1h-9zM254 765h1v1h-1zM256 765h8v1h-8zM254 766h10v1h-10zM254 767h3v1h-3zM258 767h1v1h-1zM261 767h3v1h-3zM254 768h4v1h-4zM260 768h1v1h-1zM254 769h1v1h-1zM256 769h1v1h-1zM259 769h4v1h-4zM254 770h1v1h-1zM258 770h2v1h-2zM261 770h1v1h-1zM254 771h2v1h-2zM257 771h1v1h-1zM259 771h1v1h-1zM254 772h1v1h-1zM256 773h1v1h-1zM258 773h1v1h-1zM254 774h1v1h-1zM256 774h1v1h-1zM258 774h1v1h-1zM254 775h1v1h-1zM260 775h1v1h-1zM254 776h1v1h-1zM256 776h1v1h-1zM256 778h1v1h-1zM254 779h1v1h-1zM256 779h1v1h-1zM254 780h1v1h-1zM262 780h1v1h-1zM255 781h1v1h-1zM258 781h1v1h-1zM256 782h3v1h-3zM254 783h1v1h-1zM260 783h1v1h-1zM256 785h1v1h-1zM254 786h1v1h-1zM261 786h2v1h-2zM255 788h1v1h-1z" fill="#525252"/>
<rect x="282.00" y="708.00" width="11.00" height="82.00" fill="#a8a8a8"/>
<path d="M282 708h8v1h-8zM282 709h8v1h-8zM282 710h8v1h-8zM282 711h4v1h-4zM287 711h5v1h-5zM282 712h8v1h-8zM291 712h1v1h-1zM282 713h10v1h-10zM282 714h8v1h-8zM282 715h11v1h-11zM282 716h10v1h-10zM282 717h5v1h-5zM288 717h2v1h-2zM291 717h1v1h-1zM282 718h2v1h-2zM285 718h1v1h-1zM287 718h4v1h-4zM292 718h1v1h-1zM282 719h9v1h-9zM292 719h1v1h-1zM282 720h1v1h-1zM284 720h3v1h-3zM288 720h2v1h-2zM291 720h1v1h-1zM282 721h10v1h-10zM282 722h9v1h-9zM292 722h1v1h-1zM282 723h1v1h-1zM284 723h2v1h-2zM289 723h3v1h-3zM282 724h9v1h-9zM292 724h1v1h-1zM282 725h9v1h-9zM282 726h10v1h-10zM282 727h8v1h-8zM282 728h8v1h-8zM291 728h1v1h-1zM282 729h2v1h-2zM286 729h4v1h-4zM291 729h1v1h-1zM282 730h10v1h-10zM282 731h8v1h-8zM291 731h1v1h-1zM282 732h10v1h-10zM282 733h8v1h-8zM282 734h11v1h-11zM282 735h9v1h-9zM282 736h8v1h-8zM292 736h1v1h-1zM282 737h10v1h-10zM282 738h1v1h-1zM285 738h5v1h-5zM291 738h2v1h-2zM282 739h9v1h-9zM282 740h10v1h-10zM283 741h7v1h-7zM282 742h8v1h-8zM291 742h1v1h-1zM282 743h3v1h-3zM286 743h7v1h-7zM282 744h10v1h-10zM282 745h8v1h-8zM291 745h1v1h-1zM282 746h9v1h-9zM282 747h2v1h-2zM285 747h5v1h-5zM291 747h2v1h-2zM282 748h9v1h-9zM292 748h1v1h-1zM282 749h2v1h-2zM285 749h7v1h-7zM282 750h8v1h-8zM282 751h7v1h-7zM290 751h2v1h-2zM282 752h9v1h-9zM282 753h8v1h-8zM282 754h7v1h-7zM282 755h5v1h-5zM288 755h2v1h-2zM291 755h1v1h-1zM282 756h8v1h-8zM291 756h1v1h-1zM282 757h8v1h-8zM291 757h1v1h-1zM282 758h8v1h-8zM282 759h8v1h-8zM291 759h1v1h-1zM282 760h9v1h-9zM282 761h9v1h-9zM282 762h8v1h-8zM282 763h8v1h-8zM291 763h1v1h-1zM282 764h8v1h-8zM282 765h9v1h-9zM282 766h9v1h-9zM283 767h2v1h-2zM286 767h2v1h-2zM289 767h2v1h-2zM282 768h10v1h-10zM282 769h1v1h-1zM285 769h1v1h-1zM287 769h4v1h-4zM282 770h3v1h-3zM287 770h1v1h-1zM289 770h1v1h-1zM291 770h1v1h-1zM282 771h3v1h-3zM286 771h2v1h-2zM285 772h2v1h-2zM282 773h2v1h-2zM285 773h1v1h-1zM291 773h1v1h-1zM284 775h2v1h-2zM288 777h1v1h-1zM283 779h1v1h-1zM289 779h2v1h-2zM282 780h1v1h-1zM289 780h2v1h-2zM282 782h1v1h-1zM289 782h1v1h-1zM288 783h1v1h-1zM285 784h2v1h-2zM285 785h2v1h-2zM292 785h1v1h-1zM290 786h1v1h-1zM282 787h1v1h-1zM284 787h1v1h-1zM289 787h1v1h-1z" fill="#525252"/>
<rect x="309.00" y="708.00" width="11.00" height="82.00" fill="#a8a8a8"/>
<path d="M309 708h8v1h-8zM309 709h10v1h-10zM309 710h6v1h-6zM316 710h3v1h-3zM309 711h11v1h-11zM309 712h1v1h-1zM311 712h4v1h-4zM316 712h3v1h-3zM309 713h9v1h-9zM319 713h1v1h-1zM309 714h10v1h-10zM309 715h11v1h-11zM309 716h8v1h-8zM318 716h1v1h-1zM309 717h9v1h-9zM309 718h4v1h-4zM314 718h4v1h-4zM309 719h10v1h-10zM309 720h9v1h-9zM319 720h1v1h-1zM309 721h11v1h-11zM310 722h9v1h-9zM309 723h11v1h-11zM309 724h10v1h-10zM309 725h9v1h-9zM319 725h1v1h-1zM309 726h11v1h-11zM309 727h9v1h-9zM309 728h9v1h-9zM319 728h1v1h-1zM309 729h9v1h-9zM319 729h1v1h-1zM309 730h11v1h-11zM309 731h8v1h-8zM318 731h1v1h-1zM309 732h9v1h-9zM309 733h9v1h-9zM319 733h1v1h-1zM309 734h8v1h-8zM318 734h1v1h-1zM309 735h8v1h-8zM309 736h8v1h-8zM318 736h1v1h-1zM309 737h1v1h-1zM311 737h6v1h-6zM318 737h1v1h-1zM309 738h9v1h-9zM309 739h10v1h-10zM309 740h9v1h-9zM309 741h8v1h-8zM318 741h1v1h-1zM309 742h8v1h-8zM309 743h9v1h-9zM309 744h10v1h-10zM309 745h8v1h-8zM318 745h1v1h-1zM309 746h9v1h-9zM309 747h8v1h-8zM318 747h1v1h-1zM309 748h4v1h-4zM314 748h3v1h-3zM309 749h8v1h-8zM318 749h1v1h-1zM309 750h10v1h-10zM309 751h8v1h-8zM318 751h1v1h-1zM309 752h10v1h-10zM309 753h8v1h-8zM318 753h1v1h-1zM309 754h10v1h-10zM309 755h8v1h-8zM318 755h1v1h-1zM309 756h9v1h-9zM309 757h6v1h-6zM316 757h1v1h-1zM309 758h8v1h-8zM309 759h8v1h-8zM318 759h1v1h-1zM309 760h9v1h-9zM309 761h10v1h-10zM310 762h2v1h-2zM316 762h2v1h-2zM310 763h3v1h-3zM315 763h1v1h-1zM310 764h1v1h-1zM313 764h3v1h-3zM310 765h7v1h-7zM310 766h1v1h-1zM312 766h1v1h-1zM317 766h1v1h-1zM309 767h1v1h-1zM311 767h2v1h-2zM309 768h1v1h-1zM312 768h1v1h-1zM316 768h1v1h-1zM309 769h1v1h-1zM311 769h1v1h-1zM310 770h1v1h-1zM309 771h2v1h-2zM318 771h1v1h-1zM312 772h1v1h-1zM310 773h2v1h-2zM316 773h1v1h-1zM309 774h1v1h-1zM313 774h1v1h-1zM311 776h1v1h-1zM314 777h2v1h-2zM314 778h1v1h-1zM313 779h1v1h-1zM319 779h1v1h-1zM311 780h1v1h-1zM313 780h1v1h-1zM310 781h1v1h-1zM316 781h1v1h-1zM311 783h1v1h-1zM317 783h1v1h-1zM312 784h1v1h-1zM319 784h1v1h-1zM310 785h1v1h-1zM313 785h1v1h-1zM315 785h1v1h-1zM311 786h1v1h-1zM312 787h2v1h-2zM311 789h1v1h-1zM315 789h1v1h-1zM317 789h1v1h-1z" fill="#525252"/>
<line x1="108.40" y1="790.00" x2="320.00" y2="790.00" stroke="#999" stroke-width="0.7"/>
<text x="122.50" y="700.10" font-size="10.0" text-anchor="middle" fill="#000" stroke="#000" stroke-width="0.1" >14</text>
<text x="149.80" y="700.10" font-size="10.0" text-anchor="middle" fill="#000" stroke="#000" stroke-width="0.1" >14</text>
<text x="177.50" y="700.80" font-size="10.0" text-anchor="middle" fill="#000" stroke="#000" stroke-width="0.1" >14</text>
<text x="204.90" y="700.10" font-size="10.0" text-anchor="middle" fill="#000" stroke="#000" stroke-width="0.1" >14</text>
<text x="232.40" y="700.10" font-size="10.0" text-anchor="middle" fill="#000" stroke="#000" stroke-width="0.1" >14</text>
<text x="259.80" y="699.10" font-size="10.0" text-anchor="middle" fill="#000" stroke="#000" stroke-width="0.1" >14</text>
<text x="287.60" y="702.50" font-size="10.0" text-anchor="middle" fill="#000" stroke="#000" stroke-width="0.1" >14</text>
<text x="314.60" y="700.10" font-size="10.0" text-anchor="middle" fill="#000" stroke="#000" stroke-width="0.1" >14</text>
<text x="122.50" y="799.80" font-size="5.6" text-anchor="middle" fill="#333" stroke="#333" stroke-width="0.1" >2011</text>
<text x="149.80" y="799.80" font-size="5.6" text-anchor="middle" fill="#333" stroke="#333" stroke-width="0.1" >2012</text>
<text x="177.50" y="799.80" font-size="5.6" text-anchor="middle" fill="#333" stroke="#333" stroke-width="0.1" >2013</text>
<text x="204.90" y="799.80" font-size="5.6" text-anchor="middle" fill="#333" stroke="#333" stroke-width="0.1" >2014</text>
<text x="232.40" y="799.80" font-size="5.6" text-anchor="middle" fill="#333" stroke="#333" stroke-width="0.1" >2015</text>
<text x="232.40" y="807.60" font-size="5.2" text-anchor="middle" fill="#444" stroke="#444" stroke-width="0.1" textLength="18.8" lengthAdjust="spacingAndGlyphs">(оценка)</text>
<text x="259.80" y="799.80" font-size="5.6" text-anchor="middle" fill="#333" stroke="#333" stroke-width="0.1" >2016</text>
<text x="259.80" y="807.60" font-size="5.2" text-anchor="middle" fill="#444" stroke="#444" stroke-width="0.1" textLength="20.0" lengthAdjust="spacingAndGlyphs">(прогноз)</text>
<text x="287.60" y="799.80" font-size="5.6" text-anchor="middle" fill="#333" stroke="#333" stroke-width="0.1" >2017</text>
<text x="287.60" y="807.60" font-size="5.2" text-anchor="middle" fill="#444" stroke="#444" stroke-width="0.1" textLength="20.0" lengthAdjust="spacingAndGlyphs">(прогноз)</text>
<text x="314.60" y="799.80" font-size="5.6" text-anchor="middle" fill="#333" stroke="#333" stroke-width="0.1" >2018</text>
<text x="314.60" y="807.60" font-size="5.2" text-anchor="middle" fill="#444" stroke="#444" stroke-width="0.1" textLength="20.0" lengthAdjust="spacingAndGlyphs">(прогноз)</text>
<text x="468.10" y="660.00" font-size="10.8" text-anchor="middle" fill="#000" stroke="#000" stroke-width="0.1" >Фрукты</text>
<text x="468.10" y="673.10" font-size="10.8" text-anchor="middle" fill="#000" stroke="#000" stroke-width="0.1" >(в килограммах)</text>
<line x1="356.30" y1="688.20" x2="356.30" y2="712.60" stroke="#999" stroke-width="0.7"/>
<line x1="356.30" y1="712.60" x2="356.30" y2="790.40" stroke="#999" stroke-width="0.7" stroke-dasharray="1 2.5"/>
<text x="351.50" y="691.00" font-size="6.2" text-anchor="end" fill="#111" stroke="#111" stroke-width="0.1" >65</text>
<text x="351.50" y="715.80" font-size="6.2" text-anchor="end" fill="#111" stroke="#111" stroke-width="0.1" >55</text>
<text x="351.50" y="741.80" font-size="6.2" text-anchor="end" fill="#111" stroke="#111" stroke-width="0.1" >45</text>
<text x="351.50" y="767.00" font-size="6.2" text-anchor="end" fill="#111" stroke="#111" stroke-width="0.1" >35</text>
<text x="351.50" y="792.60" font-size="6.2" text-anchor="end" fill="#111" stroke="#111" stroke-width="0.1" >25</text>
<rect x="364.50" y="703.80" width="10.10" height="86.60" fill="#a8a8a8"/>
<rect x="389.80" y="709.10" width="10.10" height="81.30" fill="#a8a8a8"/>
<rect x="415.20" y="705.90" width="10.10" height="84.50" fill="#a8a8a8"/>
<rect x="440.60" y="705.90" width="10.10" height="84.50" fill="#a8a8a8"/>
<rect x="467.20" y="703.80" width="10.10" height="86.60" fill="#a8a8a8"/>
<rect x="492.60" y="701.00" width="10.10" height="89.40" fill="#a8a8a8"/>
<rect x="518.00" y="698.00" width="10.10" height="92.40" fill="#a8a8a8"/>
<rect x="544.00" y="696.00" width="10.10" height="94.40" fill="#a8a8a8"/>
<line x1="356.30" y1="790.30" x2="561.60" y2="790.30" stroke="#999" stroke-width="0.7"/>
<text x="369.55" y="695.80" font-size="10.0" text-anchor="middle" fill="#000" stroke="#000" stroke-width="0.1" >59</text>
<text x="394.85" y="700.30" font-size="10.0" text-anchor="middle" fill="#000" stroke="#000" stroke-width="0.1" >57</text>
<text x="420.25" y="698.00" font-size="10.0" text-anchor="middle" fill="#000" stroke="#000" stroke-width="0.1" >58</text>
<text x="445.65" y="698.00" font-size="10.0" text-anchor="middle" fill="#000" stroke="#000" stroke-width="0.1" >58</text>
<text x="472.25" y="694.10" font-size="10.0" text-anchor="middle" fill="#000" stroke="#000" stroke-width="0.1" >59</text>
<text x="497.65" y="692.40" font-size="10.0" text-anchor="middle" fill="#000" stroke="#000" stroke-width="0.1" >60</text>
<text x="523.05" y="690.00" font-size="10.0" text-anchor="middle" fill="#000" stroke="#000" stroke-width="0.1" >61</text>
<text x="549.05" y="688.20" font-size="10.0" text-anchor="middle" fill="#000" stroke="#000" stroke-width="0.1" >62</text>
<text x="369.55" y="799.80" font-size="5.6" text-anchor="middle" fill="#333" stroke="#333" stroke-width="0.1" >2011</text>
<text x="394.85" y="799.80" font-size="5.6" text-anchor="middle" fill="#333" stroke="#333" stroke-width="0.1" >2012</text>
<text x="420.25" y="799.80" font-size="5.6" text-anchor="middle" fill="#333" stroke="#333" stroke-width="0.1" >2013</text>
<text x="445.65" y="799.80" font-size="5.6" text-anchor="middle" fill="#333" stroke="#333" stroke-width="0.1" >2014</text>
<text x="472.25" y="799.80" font-size="5.6" text-anchor="middle" fill="#333" stroke="#333" stroke-width="0.1" >2015</text>
<text x="472.25" y="807.80" font-size="5.2" text-anchor="middle" fill="#444" stroke="#444" stroke-width="0.1" textLength="18.8" lengthAdjust="spacingAndGlyphs">(оценка)</text>
<text x="497.65" y="799.80" font-size="5.6" text-anchor="middle" fill="#333" stroke="#333" stroke-width="0.1" >2016</text>
<text x="497.65" y="807.80" font-size="5.2" text-anchor="middle" fill="#444" stroke="#444" stroke-width="0.1" textLength="20.0" lengthAdjust="spacingAndGlyphs">(прогноз)</text>
<text x="523.05" y="799.80" font-size="5.6" text-anchor="middle" fill="#333" stroke="#333" stroke-width="0.1" >2017</text>
<text x="523.05" y="807.80" font-size="5.2" text-anchor="middle" fill="#444" stroke="#444" stroke-width="0.1" textLength="20.0" lengthAdjust="spacingAndGlyphs">(прогноз)</text>
<text x="549.05" y="799.80" font-size="5.6" text-anchor="middle" fill="#333" stroke="#333" stroke-width="0.1" >2018</text>
<text x="549.05" y="807.80" font-size="5.2" text-anchor="middle" fill="#444" stroke="#444" stroke-width="0.1" textLength="20.0" lengthAdjust="spacingAndGlyphs">(прогноз)</text>
</svg></body></html>
